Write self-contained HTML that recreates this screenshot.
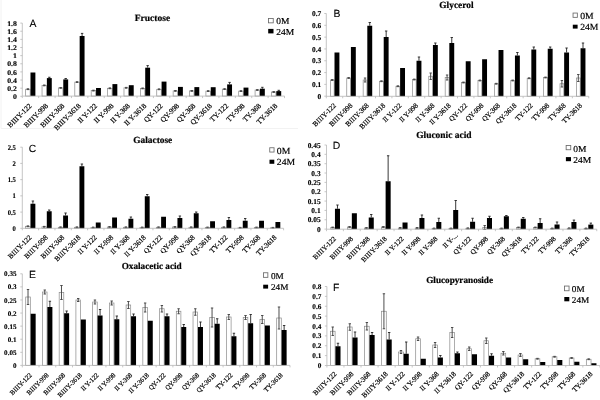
<!DOCTYPE html>
<html><head><meta charset="utf-8"><style>
html,body{margin:0;padding:0;background:#fff;width:600px;height:400px;overflow:hidden}
svg{display:block;will-change:transform;filter:blur(0.3px)}
text{fill:#000;text-rendering:geometricPrecision}
</style></head><body>
<svg width="600" height="400" viewBox="0 0 600 400">
<rect width="600" height="400" fill="#fff"/>
<path d="M1 0V128.5H298" stroke="#f2f2f2" stroke-width="1" fill="none"/>
<rect x="25.65" y="89.20" width="4.49" height="6.90" fill="#fff" stroke="#8a8a8a" stroke-width="0.7"/>
<rect x="30.49" y="72.50" width="4.89" height="23.60" fill="#000"/>
<path d="M27.90 88.80V89.60M26.70 88.80H29.10M26.70 89.60H29.10" stroke="#444" stroke-width="0.95" fill="none"/>
<rect x="42.04" y="85.40" width="4.49" height="10.70" fill="#fff" stroke="#8a8a8a" stroke-width="0.7"/>
<rect x="46.88" y="78.10" width="4.89" height="18.00" fill="#000"/>
<path d="M44.29 85.00V85.80M43.09 85.00H45.49M43.09 85.80H45.49" stroke="#444" stroke-width="0.95" fill="none"/>
<path d="M49.33 77.25V78.10M48.13 77.25H50.53" stroke="#222" stroke-width="0.9" fill="none"/>
<rect x="58.43" y="87.90" width="4.49" height="8.20" fill="#fff" stroke="#8a8a8a" stroke-width="0.7"/>
<rect x="63.27" y="79.40" width="4.89" height="16.70" fill="#000"/>
<path d="M60.67 87.50V88.30M59.47 87.50H61.87M59.47 88.30H61.87" stroke="#444" stroke-width="0.95" fill="none"/>
<path d="M65.71 78.50V79.40M64.51 78.50H66.91" stroke="#222" stroke-width="0.9" fill="none"/>
<rect x="74.81" y="82.10" width="4.49" height="14.00" fill="#fff" stroke="#8a8a8a" stroke-width="0.7"/>
<rect x="79.66" y="36.00" width="4.89" height="60.10" fill="#000"/>
<path d="M77.06 81.70V82.50M75.86 81.70H78.26M75.86 82.50H78.26" stroke="#444" stroke-width="0.95" fill="none"/>
<path d="M82.10 33.40V36.00M80.90 33.40H83.30" stroke="#222" stroke-width="0.9" fill="none"/>
<rect x="91.20" y="90.60" width="4.49" height="5.50" fill="#fff" stroke="#8a8a8a" stroke-width="0.7"/>
<rect x="96.04" y="88.00" width="4.89" height="8.10" fill="#000"/>
<path d="M93.45 90.20V91.00M92.25 90.20H94.65M92.25 91.00H94.65" stroke="#444" stroke-width="0.95" fill="none"/>
<rect x="107.59" y="88.30" width="4.49" height="7.80" fill="#fff" stroke="#8a8a8a" stroke-width="0.7"/>
<rect x="112.43" y="84.10" width="4.89" height="12.00" fill="#000"/>
<path d="M109.84 87.90V88.70M108.64 87.90H111.04M108.64 88.70H111.04" stroke="#444" stroke-width="0.95" fill="none"/>
<rect x="123.98" y="87.80" width="4.49" height="8.30" fill="#fff" stroke="#8a8a8a" stroke-width="0.7"/>
<rect x="128.82" y="85.20" width="4.89" height="10.90" fill="#000"/>
<path d="M126.22 87.40V88.20M125.02 87.40H127.42M125.02 88.20H127.42" stroke="#444" stroke-width="0.95" fill="none"/>
<rect x="140.36" y="88.40" width="4.49" height="7.70" fill="#fff" stroke="#8a8a8a" stroke-width="0.7"/>
<rect x="145.21" y="67.70" width="4.89" height="28.40" fill="#000"/>
<path d="M142.61 88.00V88.80M141.41 88.00H143.81M141.41 88.80H143.81" stroke="#444" stroke-width="0.95" fill="none"/>
<path d="M147.65 65.60V67.70M146.45 65.60H148.85" stroke="#222" stroke-width="0.9" fill="none"/>
<rect x="156.75" y="89.30" width="4.49" height="6.80" fill="#fff" stroke="#8a8a8a" stroke-width="0.7"/>
<rect x="161.59" y="81.60" width="4.89" height="14.50" fill="#000"/>
<path d="M159.00 88.90V89.70M157.80 88.90H160.20M157.80 89.70H160.20" stroke="#444" stroke-width="0.95" fill="none"/>
<rect x="173.14" y="90.90" width="4.49" height="5.20" fill="#fff" stroke="#8a8a8a" stroke-width="0.7"/>
<rect x="177.98" y="86.90" width="4.89" height="9.20" fill="#000"/>
<path d="M175.39 90.50V91.30M174.19 90.50H176.59M174.19 91.30H176.59" stroke="#444" stroke-width="0.95" fill="none"/>
<rect x="189.53" y="90.90" width="4.49" height="5.20" fill="#fff" stroke="#8a8a8a" stroke-width="0.7"/>
<rect x="194.37" y="87.10" width="4.89" height="9.00" fill="#000"/>
<path d="M191.77 90.50V91.30M190.57 90.50H192.97M190.57 91.30H192.97" stroke="#444" stroke-width="0.95" fill="none"/>
<rect x="205.91" y="91.10" width="4.49" height="5.00" fill="#fff" stroke="#8a8a8a" stroke-width="0.7"/>
<rect x="210.76" y="87.20" width="4.89" height="8.90" fill="#000"/>
<path d="M208.16 90.70V91.50M206.96 90.70H209.36M206.96 91.50H209.36" stroke="#444" stroke-width="0.95" fill="none"/>
<rect x="222.30" y="89.10" width="4.49" height="7.00" fill="#fff" stroke="#8a8a8a" stroke-width="0.7"/>
<rect x="227.14" y="84.40" width="4.89" height="11.70" fill="#000"/>
<path d="M224.55 88.70V89.50M223.35 88.70H225.75M223.35 89.50H225.75" stroke="#444" stroke-width="0.95" fill="none"/>
<path d="M229.59 82.40V84.40M228.39 82.40H230.79" stroke="#222" stroke-width="0.9" fill="none"/>
<rect x="238.69" y="91.10" width="4.49" height="5.00" fill="#fff" stroke="#8a8a8a" stroke-width="0.7"/>
<rect x="243.53" y="87.60" width="4.89" height="8.50" fill="#000"/>
<path d="M240.94 90.70V91.50M239.74 90.70H242.14M239.74 91.50H242.14" stroke="#444" stroke-width="0.95" fill="none"/>
<rect x="255.08" y="90.00" width="4.49" height="6.10" fill="#fff" stroke="#8a8a8a" stroke-width="0.7"/>
<rect x="259.92" y="88.70" width="4.89" height="7.40" fill="#000"/>
<path d="M257.32 89.60V90.40M256.12 89.60H258.52M256.12 90.40H258.52" stroke="#444" stroke-width="0.95" fill="none"/>
<path d="M262.36 87.30V88.70M261.16 87.30H263.56" stroke="#222" stroke-width="0.9" fill="none"/>
<rect x="271.46" y="92.00" width="4.49" height="4.10" fill="#fff" stroke="#8a8a8a" stroke-width="0.7"/>
<rect x="276.31" y="91.10" width="4.89" height="5.00" fill="#000"/>
<path d="M273.71 91.60V92.40M272.51 91.60H274.91M272.51 92.40H274.91" stroke="#444" stroke-width="0.95" fill="none"/>
<path d="M278.75 90.30V91.10M277.55 90.30H279.95" stroke="#222" stroke-width="0.9" fill="none"/>
<path d="M22.30 23.10V96.10H284.50" stroke="#b8b8b8" stroke-width="0.8" fill="none"/>
<path d="M20.30 96.30H22.30" stroke="#b8b8b8" stroke-width="0.8"/>
<text transform="translate(16.90,98.90) scale(1.1,1.0)" font-family="Liberation Serif" font-weight="bold" font-size="7.1" text-anchor="end" stroke="#000" stroke-width="0.12">0</text>
<path d="M20.30 88.17H22.30" stroke="#b8b8b8" stroke-width="0.8"/>
<text transform="translate(16.90,90.77) scale(1.1,1.0)" font-family="Liberation Serif" font-weight="bold" font-size="7.1" text-anchor="end" stroke="#000" stroke-width="0.12">0.2</text>
<path d="M20.30 80.03H22.30" stroke="#b8b8b8" stroke-width="0.8"/>
<text transform="translate(16.90,82.63) scale(1.1,1.0)" font-family="Liberation Serif" font-weight="bold" font-size="7.1" text-anchor="end" stroke="#000" stroke-width="0.12">0.4</text>
<path d="M20.30 71.90H22.30" stroke="#b8b8b8" stroke-width="0.8"/>
<text transform="translate(16.90,74.50) scale(1.1,1.0)" font-family="Liberation Serif" font-weight="bold" font-size="7.1" text-anchor="end" stroke="#000" stroke-width="0.12">0.6</text>
<path d="M20.30 63.77H22.30" stroke="#b8b8b8" stroke-width="0.8"/>
<text transform="translate(16.90,66.37) scale(1.1,1.0)" font-family="Liberation Serif" font-weight="bold" font-size="7.1" text-anchor="end" stroke="#000" stroke-width="0.12">0.8</text>
<path d="M20.30 55.63H22.30" stroke="#b8b8b8" stroke-width="0.8"/>
<text transform="translate(16.90,58.23) scale(1.1,1.0)" font-family="Liberation Serif" font-weight="bold" font-size="7.1" text-anchor="end" stroke="#000" stroke-width="0.12">1</text>
<path d="M20.30 47.50H22.30" stroke="#b8b8b8" stroke-width="0.8"/>
<text transform="translate(16.90,50.10) scale(1.1,1.0)" font-family="Liberation Serif" font-weight="bold" font-size="7.1" text-anchor="end" stroke="#000" stroke-width="0.12">1.2</text>
<path d="M20.30 39.37H22.30" stroke="#b8b8b8" stroke-width="0.8"/>
<text transform="translate(16.90,41.97) scale(1.1,1.0)" font-family="Liberation Serif" font-weight="bold" font-size="7.1" text-anchor="end" stroke="#000" stroke-width="0.12">1.4</text>
<path d="M20.30 31.23H22.30" stroke="#b8b8b8" stroke-width="0.8"/>
<text transform="translate(16.90,33.83) scale(1.1,1.0)" font-family="Liberation Serif" font-weight="bold" font-size="7.1" text-anchor="end" stroke="#000" stroke-width="0.12">1.6</text>
<path d="M20.30 23.10H22.30" stroke="#b8b8b8" stroke-width="0.8"/>
<text transform="translate(16.90,25.70) scale(1.1,1.0)" font-family="Liberation Serif" font-weight="bold" font-size="7.1" text-anchor="end" stroke="#000" stroke-width="0.12">1.8</text>
<path d="M22.30 96.10V98.10" stroke="#b8b8b8" stroke-width="0.8"/>
<path d="M38.69 96.10V98.10" stroke="#b8b8b8" stroke-width="0.8"/>
<path d="M55.08 96.10V98.10" stroke="#b8b8b8" stroke-width="0.8"/>
<path d="M71.46 96.10V98.10" stroke="#b8b8b8" stroke-width="0.8"/>
<path d="M87.85 96.10V98.10" stroke="#b8b8b8" stroke-width="0.8"/>
<path d="M104.24 96.10V98.10" stroke="#b8b8b8" stroke-width="0.8"/>
<path d="M120.62 96.10V98.10" stroke="#b8b8b8" stroke-width="0.8"/>
<path d="M137.01 96.10V98.10" stroke="#b8b8b8" stroke-width="0.8"/>
<path d="M153.40 96.10V98.10" stroke="#b8b8b8" stroke-width="0.8"/>
<path d="M169.79 96.10V98.10" stroke="#b8b8b8" stroke-width="0.8"/>
<path d="M186.18 96.10V98.10" stroke="#b8b8b8" stroke-width="0.8"/>
<path d="M202.56 96.10V98.10" stroke="#b8b8b8" stroke-width="0.8"/>
<path d="M218.95 96.10V98.10" stroke="#b8b8b8" stroke-width="0.8"/>
<path d="M235.34 96.10V98.10" stroke="#b8b8b8" stroke-width="0.8"/>
<path d="M251.72 96.10V98.10" stroke="#b8b8b8" stroke-width="0.8"/>
<path d="M268.11 96.10V98.10" stroke="#b8b8b8" stroke-width="0.8"/>
<path d="M284.50 96.10V98.10" stroke="#b8b8b8" stroke-width="0.8"/>
<text transform="translate(32.09,106.30) rotate(-45)" font-family="Liberation Serif" font-size="7.35" text-anchor="end" stroke="#000" stroke-width="0.2">B<tspan dx="0.15">I</tspan><tspan dx="0.07">I</tspan><tspan dx="0.07">I</tspan><tspan dx="0.22">Y</tspan>-122</text>
<text transform="translate(48.48,106.30) rotate(-45)" font-family="Liberation Serif" font-size="7.35" text-anchor="end" stroke="#000" stroke-width="0.2">B<tspan dx="0.15">I</tspan><tspan dx="0.07">I</tspan><tspan dx="0.07">I</tspan><tspan dx="0.22">Y</tspan>-998</text>
<text transform="translate(64.87,106.30) rotate(-45)" font-family="Liberation Serif" font-size="7.35" text-anchor="end" stroke="#000" stroke-width="0.2">B<tspan dx="0.15">I</tspan><tspan dx="0.07">I</tspan><tspan dx="0.07">I</tspan><tspan dx="0.22">Y</tspan>-368</text>
<text transform="translate(81.26,106.30) rotate(-45)" font-family="Liberation Serif" font-size="7.35" text-anchor="end" stroke="#000" stroke-width="0.2">B<tspan dx="0.15">I</tspan><tspan dx="0.07">I</tspan><tspan dx="0.07">I</tspan><tspan dx="0.22">Y</tspan>-3618</text>
<text transform="translate(97.64,106.30) rotate(-45)" font-family="Liberation Serif" font-size="7.35" text-anchor="end" stroke="#000" stroke-width="0.2">I<tspan dx="-0.07">I</tspan><tspan dx="1.54">Y</tspan>-122</text>
<text transform="translate(114.03,106.30) rotate(-45)" font-family="Liberation Serif" font-size="7.35" text-anchor="end" stroke="#000" stroke-width="0.2">I<tspan dx="-0.07">I</tspan><tspan dx="1.54">Y</tspan>-998</text>
<text transform="translate(130.42,106.30) rotate(-45)" font-family="Liberation Serif" font-size="7.35" text-anchor="end" stroke="#000" stroke-width="0.2">I<tspan dx="-0.07">I</tspan><tspan dx="1.54">Y</tspan>-368</text>
<text transform="translate(146.81,106.30) rotate(-45)" font-family="Liberation Serif" font-size="7.35" text-anchor="end" stroke="#000" stroke-width="0.2">I<tspan dx="-0.07">I</tspan><tspan dx="1.54">Y</tspan>-3618</text>
<text transform="translate(163.19,106.30) rotate(-45)" font-family="Liberation Serif" font-size="7.35" text-anchor="end" stroke="#000" stroke-width="0.2">QY-122</text>
<text transform="translate(179.58,106.30) rotate(-45)" font-family="Liberation Serif" font-size="7.35" text-anchor="end" stroke="#000" stroke-width="0.2">QY-998</text>
<text transform="translate(195.97,106.30) rotate(-45)" font-family="Liberation Serif" font-size="7.35" text-anchor="end" stroke="#000" stroke-width="0.2">QY-368</text>
<text transform="translate(212.36,106.30) rotate(-45)" font-family="Liberation Serif" font-size="7.35" text-anchor="end" stroke="#000" stroke-width="0.2">QY-3618</text>
<text transform="translate(228.74,106.30) rotate(-45)" font-family="Liberation Serif" font-size="7.35" text-anchor="end" stroke="#000" stroke-width="0.2">TY-122</text>
<text transform="translate(245.13,106.30) rotate(-45)" font-family="Liberation Serif" font-size="7.35" text-anchor="end" stroke="#000" stroke-width="0.2">TY-998</text>
<text transform="translate(261.52,106.30) rotate(-45)" font-family="Liberation Serif" font-size="7.35" text-anchor="end" stroke="#000" stroke-width="0.2">TY-368</text>
<text transform="translate(277.91,106.30) rotate(-45)" font-family="Liberation Serif" font-size="7.35" text-anchor="end" stroke="#000" stroke-width="0.2">TY-3618</text>
<text x="134.8" y="20.6" font-family="Liberation Serif" font-weight="bold" font-size="9.5" stroke="#000" stroke-width="0.2">Fructose</text>
<text x="29.6" y="27.2" font-family="Liberation Sans" font-size="10.4" stroke="#000" stroke-width="0.1">A</text>
<rect x="268.45" y="18.55" width="4.80" height="4.30" fill="#fff" stroke="#6a6a6a" stroke-width="0.85"/>
<text transform="translate(276.3,24.3) scale(1.04,1)" font-family="Liberation Serif" font-size="9.1" stroke="#000" stroke-width="0.18">0M</text>
<rect x="268.20" y="28.90" width="5.30" height="4.50" fill="#000"/>
<text transform="translate(276.3,34.8) scale(1.04,1)" font-family="Liberation Serif" font-size="9.1" stroke="#000" stroke-width="0.18">24M</text>
<rect x="330.36" y="80.00" width="3.80" height="16.30" fill="#fff" stroke="#8a8a8a" stroke-width="0.7"/>
<rect x="334.50" y="52.50" width="4.90" height="43.80" fill="#000"/>
<path d="M332.25 79.60V80.40M331.05 79.60H333.45M331.05 80.40H333.45" stroke="#444" stroke-width="0.95" fill="none"/>
<rect x="346.76" y="78.00" width="3.80" height="18.30" fill="#fff" stroke="#8a8a8a" stroke-width="0.7"/>
<rect x="350.90" y="47.00" width="4.90" height="49.30" fill="#000"/>
<path d="M348.66 77.60V78.40M347.46 77.60H349.86M347.46 78.40H349.86" stroke="#444" stroke-width="0.95" fill="none"/>
<rect x="363.16" y="80.00" width="3.80" height="16.30" fill="#fff" stroke="#8a8a8a" stroke-width="0.7"/>
<rect x="367.31" y="25.75" width="4.90" height="70.55" fill="#000"/>
<path d="M365.06 78.00V82.00M363.86 78.00H366.26M363.86 82.00H366.26" stroke="#444" stroke-width="0.95" fill="none"/>
<path d="M369.76 22.50V25.75M368.56 22.50H370.96" stroke="#222" stroke-width="0.9" fill="none"/>
<rect x="379.56" y="81.25" width="3.80" height="15.05" fill="#fff" stroke="#8a8a8a" stroke-width="0.7"/>
<rect x="383.71" y="37.00" width="4.90" height="59.30" fill="#000"/>
<path d="M381.46 80.85V81.65M380.26 80.85H382.66M380.26 81.65H382.66" stroke="#444" stroke-width="0.95" fill="none"/>
<path d="M386.16 31.00V37.00M384.96 31.00H387.36" stroke="#222" stroke-width="0.9" fill="none"/>
<rect x="395.97" y="86.25" width="3.80" height="10.05" fill="#fff" stroke="#8a8a8a" stroke-width="0.7"/>
<rect x="400.11" y="68.00" width="4.90" height="28.30" fill="#000"/>
<path d="M397.87 85.85V86.65M396.67 85.85H399.07M396.67 86.65H399.07" stroke="#444" stroke-width="0.95" fill="none"/>
<rect x="412.37" y="79.50" width="3.80" height="16.80" fill="#fff" stroke="#8a8a8a" stroke-width="0.7"/>
<rect x="416.52" y="60.75" width="4.90" height="35.55" fill="#000"/>
<path d="M414.27 79.10V79.90M413.07 79.10H415.47M413.07 79.90H415.47" stroke="#444" stroke-width="0.95" fill="none"/>
<path d="M418.97 57.00V60.75M417.77 57.00H420.17" stroke="#222" stroke-width="0.9" fill="none"/>
<rect x="428.77" y="76.25" width="3.80" height="20.05" fill="#fff" stroke="#8a8a8a" stroke-width="0.7"/>
<rect x="432.92" y="45.00" width="4.90" height="51.30" fill="#000"/>
<path d="M430.67 73.00V79.50M429.47 73.00H431.87M429.47 79.50H431.87" stroke="#444" stroke-width="0.95" fill="none"/>
<path d="M435.37 43.00V45.00M434.17 43.00H436.57" stroke="#222" stroke-width="0.9" fill="none"/>
<rect x="445.18" y="77.50" width="3.80" height="18.80" fill="#fff" stroke="#8a8a8a" stroke-width="0.7"/>
<rect x="449.32" y="43.00" width="4.90" height="53.30" fill="#000"/>
<path d="M447.08 75.00V80.00M445.88 75.00H448.28M445.88 80.00H448.28" stroke="#444" stroke-width="0.95" fill="none"/>
<path d="M451.77 37.50V43.00M450.57 37.50H452.97" stroke="#222" stroke-width="0.9" fill="none"/>
<rect x="461.58" y="82.50" width="3.80" height="13.80" fill="#fff" stroke="#8a8a8a" stroke-width="0.7"/>
<rect x="465.73" y="61.25" width="4.90" height="35.05" fill="#000"/>
<path d="M463.48 82.10V82.90M462.28 82.10H464.68M462.28 82.90H464.68" stroke="#444" stroke-width="0.95" fill="none"/>
<rect x="477.98" y="80.50" width="3.80" height="15.80" fill="#fff" stroke="#8a8a8a" stroke-width="0.7"/>
<rect x="482.13" y="59.25" width="4.90" height="37.05" fill="#000"/>
<path d="M479.88 80.10V80.90M478.68 80.10H481.08M478.68 80.90H481.08" stroke="#444" stroke-width="0.95" fill="none"/>
<rect x="494.39" y="83.75" width="3.80" height="12.55" fill="#fff" stroke="#8a8a8a" stroke-width="0.7"/>
<rect x="498.53" y="50.00" width="4.90" height="46.30" fill="#000"/>
<path d="M496.28 83.35V84.15M495.08 83.35H497.48M495.08 84.15H497.48" stroke="#444" stroke-width="0.95" fill="none"/>
<rect x="510.79" y="80.50" width="3.80" height="15.80" fill="#fff" stroke="#8a8a8a" stroke-width="0.7"/>
<rect x="514.94" y="55.50" width="4.90" height="40.80" fill="#000"/>
<path d="M512.69 80.10V80.90M511.49 80.10H513.89M511.49 80.90H513.89" stroke="#444" stroke-width="0.95" fill="none"/>
<path d="M517.38 52.50V55.50M516.18 52.50H518.58" stroke="#222" stroke-width="0.9" fill="none"/>
<rect x="527.19" y="78.25" width="3.80" height="18.05" fill="#fff" stroke="#8a8a8a" stroke-width="0.7"/>
<rect x="531.34" y="49.50" width="4.90" height="46.80" fill="#000"/>
<path d="M529.09 77.85V78.65M527.89 77.85H530.29M527.89 78.65H530.29" stroke="#444" stroke-width="0.95" fill="none"/>
<path d="M533.79 47.00V49.50M532.59 47.00H534.99" stroke="#222" stroke-width="0.9" fill="none"/>
<rect x="543.60" y="77.50" width="3.80" height="18.80" fill="#fff" stroke="#8a8a8a" stroke-width="0.7"/>
<rect x="547.74" y="48.75" width="4.90" height="47.55" fill="#000"/>
<path d="M545.49 77.10V77.90M544.29 77.10H546.69M544.29 77.90H546.69" stroke="#444" stroke-width="0.95" fill="none"/>
<path d="M550.19 47.00V48.75M548.99 47.00H551.39" stroke="#222" stroke-width="0.9" fill="none"/>
<rect x="560.00" y="83.75" width="3.80" height="12.55" fill="#fff" stroke="#8a8a8a" stroke-width="0.7"/>
<rect x="564.15" y="52.50" width="4.90" height="43.80" fill="#000"/>
<path d="M561.90 80.50V87.00M560.70 80.50H563.10M560.70 87.00H563.10" stroke="#444" stroke-width="0.95" fill="none"/>
<path d="M566.59 48.00V52.50M565.39 48.00H567.79" stroke="#222" stroke-width="0.9" fill="none"/>
<rect x="576.40" y="78.00" width="3.80" height="18.30" fill="#fff" stroke="#8a8a8a" stroke-width="0.7"/>
<rect x="580.55" y="48.25" width="4.90" height="48.05" fill="#000"/>
<path d="M578.30 74.50V81.50M577.10 74.50H579.50M577.10 81.50H579.50" stroke="#444" stroke-width="0.95" fill="none"/>
<path d="M583.00 43.00V48.25M581.80 43.00H584.20" stroke="#222" stroke-width="0.9" fill="none"/>
<path d="M326.30 13.50V96.30H588.75" stroke="#b8b8b8" stroke-width="0.8" fill="none"/>
<path d="M324.30 96.20H326.30" stroke="#b8b8b8" stroke-width="0.8"/>
<text transform="translate(321.30,98.80) scale(1.0,1.0)" font-family="Liberation Serif" font-weight="bold" font-size="7.4" text-anchor="end" stroke="#000" stroke-width="0.12">0</text>
<path d="M324.30 84.39H326.30" stroke="#b8b8b8" stroke-width="0.8"/>
<text transform="translate(321.30,86.99) scale(1.0,1.0)" font-family="Liberation Serif" font-weight="bold" font-size="7.4" text-anchor="end" stroke="#000" stroke-width="0.12">0.1</text>
<path d="M324.30 72.57H326.30" stroke="#b8b8b8" stroke-width="0.8"/>
<text transform="translate(321.30,75.17) scale(1.0,1.0)" font-family="Liberation Serif" font-weight="bold" font-size="7.4" text-anchor="end" stroke="#000" stroke-width="0.12">0.2</text>
<path d="M324.30 60.76H326.30" stroke="#b8b8b8" stroke-width="0.8"/>
<text transform="translate(321.30,63.36) scale(1.0,1.0)" font-family="Liberation Serif" font-weight="bold" font-size="7.4" text-anchor="end" stroke="#000" stroke-width="0.12">0.3</text>
<path d="M324.30 48.94H326.30" stroke="#b8b8b8" stroke-width="0.8"/>
<text transform="translate(321.30,51.54) scale(1.0,1.0)" font-family="Liberation Serif" font-weight="bold" font-size="7.4" text-anchor="end" stroke="#000" stroke-width="0.12">0.4</text>
<path d="M324.30 37.13H326.30" stroke="#b8b8b8" stroke-width="0.8"/>
<text transform="translate(321.30,39.73) scale(1.0,1.0)" font-family="Liberation Serif" font-weight="bold" font-size="7.4" text-anchor="end" stroke="#000" stroke-width="0.12">0.5</text>
<path d="M324.30 25.31H326.30" stroke="#b8b8b8" stroke-width="0.8"/>
<text transform="translate(321.30,27.91) scale(1.0,1.0)" font-family="Liberation Serif" font-weight="bold" font-size="7.4" text-anchor="end" stroke="#000" stroke-width="0.12">0.6</text>
<path d="M324.30 13.50H326.30" stroke="#b8b8b8" stroke-width="0.8"/>
<text transform="translate(321.30,16.10) scale(1.0,1.0)" font-family="Liberation Serif" font-weight="bold" font-size="7.4" text-anchor="end" stroke="#000" stroke-width="0.12">0.7</text>
<path d="M326.30 96.30V98.30" stroke="#b8b8b8" stroke-width="0.8"/>
<path d="M342.70 96.30V98.30" stroke="#b8b8b8" stroke-width="0.8"/>
<path d="M359.11 96.30V98.30" stroke="#b8b8b8" stroke-width="0.8"/>
<path d="M375.51 96.30V98.30" stroke="#b8b8b8" stroke-width="0.8"/>
<path d="M391.91 96.30V98.30" stroke="#b8b8b8" stroke-width="0.8"/>
<path d="M408.32 96.30V98.30" stroke="#b8b8b8" stroke-width="0.8"/>
<path d="M424.72 96.30V98.30" stroke="#b8b8b8" stroke-width="0.8"/>
<path d="M441.12 96.30V98.30" stroke="#b8b8b8" stroke-width="0.8"/>
<path d="M457.52 96.30V98.30" stroke="#b8b8b8" stroke-width="0.8"/>
<path d="M473.93 96.30V98.30" stroke="#b8b8b8" stroke-width="0.8"/>
<path d="M490.33 96.30V98.30" stroke="#b8b8b8" stroke-width="0.8"/>
<path d="M506.73 96.30V98.30" stroke="#b8b8b8" stroke-width="0.8"/>
<path d="M523.14 96.30V98.30" stroke="#b8b8b8" stroke-width="0.8"/>
<path d="M539.54 96.30V98.30" stroke="#b8b8b8" stroke-width="0.8"/>
<path d="M555.94 96.30V98.30" stroke="#b8b8b8" stroke-width="0.8"/>
<path d="M572.35 96.30V98.30" stroke="#b8b8b8" stroke-width="0.8"/>
<path d="M588.75 96.30V98.30" stroke="#b8b8b8" stroke-width="0.8"/>
<text transform="translate(336.50,105.90) rotate(-45)" font-family="Liberation Serif" font-size="7.1" text-anchor="end" stroke="#000" stroke-width="0.2">B<tspan dx="0.14">I</tspan><tspan dx="0.07">I</tspan><tspan dx="0.07">I</tspan><tspan dx="0.21">Y</tspan>-122</text>
<text transform="translate(352.90,105.90) rotate(-45)" font-family="Liberation Serif" font-size="7.1" text-anchor="end" stroke="#000" stroke-width="0.2">B<tspan dx="0.14">I</tspan><tspan dx="0.07">I</tspan><tspan dx="0.07">I</tspan><tspan dx="0.21">Y</tspan>-998</text>
<text transform="translate(369.31,105.90) rotate(-45)" font-family="Liberation Serif" font-size="7.1" text-anchor="end" stroke="#000" stroke-width="0.2">B<tspan dx="0.14">I</tspan><tspan dx="0.07">I</tspan><tspan dx="0.07">I</tspan><tspan dx="0.21">Y</tspan>-368</text>
<text transform="translate(385.71,105.90) rotate(-45)" font-family="Liberation Serif" font-size="7.1" text-anchor="end" stroke="#000" stroke-width="0.2">B<tspan dx="0.14">I</tspan><tspan dx="0.07">I</tspan><tspan dx="0.07">I</tspan><tspan dx="0.21">Y</tspan>-3618</text>
<text transform="translate(402.11,105.90) rotate(-45)" font-family="Liberation Serif" font-size="7.1" text-anchor="end" stroke="#000" stroke-width="0.2">I<tspan dx="-0.07">I</tspan><tspan dx="1.49">Y</tspan>-122</text>
<text transform="translate(418.52,105.90) rotate(-45)" font-family="Liberation Serif" font-size="7.1" text-anchor="end" stroke="#000" stroke-width="0.2">I<tspan dx="-0.07">I</tspan><tspan dx="1.49">Y</tspan>-998</text>
<text transform="translate(434.92,105.90) rotate(-45)" font-family="Liberation Serif" font-size="7.1" text-anchor="end" stroke="#000" stroke-width="0.2">I<tspan dx="-0.07">I</tspan><tspan dx="1.49">Y</tspan>-368</text>
<text transform="translate(451.32,105.90) rotate(-45)" font-family="Liberation Serif" font-size="7.1" text-anchor="end" stroke="#000" stroke-width="0.2">I<tspan dx="-0.07">I</tspan><tspan dx="1.49">Y</tspan>-3618</text>
<text transform="translate(467.73,105.90) rotate(-45)" font-family="Liberation Serif" font-size="7.1" text-anchor="end" stroke="#000" stroke-width="0.2">QY-122</text>
<text transform="translate(484.13,105.90) rotate(-45)" font-family="Liberation Serif" font-size="7.1" text-anchor="end" stroke="#000" stroke-width="0.2">QY-998</text>
<text transform="translate(500.53,105.90) rotate(-45)" font-family="Liberation Serif" font-size="7.1" text-anchor="end" stroke="#000" stroke-width="0.2">QY-368</text>
<text transform="translate(516.94,105.90) rotate(-45)" font-family="Liberation Serif" font-size="7.1" text-anchor="end" stroke="#000" stroke-width="0.2">QY-3618</text>
<text transform="translate(533.34,105.90) rotate(-45)" font-family="Liberation Serif" font-size="7.1" text-anchor="end" stroke="#000" stroke-width="0.2">TY-122</text>
<text transform="translate(549.74,105.90) rotate(-45)" font-family="Liberation Serif" font-size="7.1" text-anchor="end" stroke="#000" stroke-width="0.2">TY-998</text>
<text transform="translate(566.15,105.90) rotate(-45)" font-family="Liberation Serif" font-size="7.1" text-anchor="end" stroke="#000" stroke-width="0.2">TY-368</text>
<text transform="translate(582.55,105.90) rotate(-45)" font-family="Liberation Serif" font-size="7.1" text-anchor="end" stroke="#000" stroke-width="0.2">TY-3618</text>
<text x="439.3" y="8.1" font-family="Liberation Serif" font-weight="bold" font-size="9.4" stroke="#000" stroke-width="0.2">Glycerol</text>
<text x="333.4" y="16.5" font-family="Liberation Sans" font-size="10.4" stroke="#000" stroke-width="0.1">B</text>
<rect x="573.05" y="13.05" width="4.30" height="4.30" fill="#fff" stroke="#6a6a6a" stroke-width="0.85"/>
<text transform="translate(580.2,18.9) scale(1.04,1)" font-family="Liberation Serif" font-size="9.3" stroke="#000" stroke-width="0.18">0M</text>
<rect x="572.80" y="24.70" width="4.80" height="3.90" fill="#000"/>
<text transform="translate(580.2,30.1) scale(1.04,1)" font-family="Liberation Serif" font-size="9.3" stroke="#000" stroke-width="0.18">24M</text>
<rect x="25.64" y="226.30" width="4.48" height="2.00" fill="#fff" stroke="#8a8a8a" stroke-width="0.7"/>
<rect x="30.47" y="203.75" width="4.88" height="24.55" fill="#000"/>
<path d="M27.88 225.90V226.70M26.68 225.90H29.08M26.68 226.70H29.08" stroke="#444" stroke-width="0.95" fill="none"/>
<path d="M32.90 201.00V203.75M31.70 201.00H34.10" stroke="#222" stroke-width="0.9" fill="none"/>
<rect x="41.97" y="226.80" width="4.47" height="1.50" fill="#fff" stroke="#8a8a8a" stroke-width="0.7"/>
<rect x="46.80" y="211.25" width="4.88" height="17.05" fill="#000"/>
<path d="M44.21 226.40V227.20M43.01 226.40H45.41M43.01 227.20H45.41" stroke="#444" stroke-width="0.95" fill="none"/>
<path d="M49.23 210.00V211.25M48.03 210.00H50.43" stroke="#222" stroke-width="0.9" fill="none"/>
<rect x="58.30" y="227.30" width="4.47" height="1.00" fill="#fff" stroke="#8a8a8a" stroke-width="0.7"/>
<rect x="63.13" y="215.50" width="4.88" height="12.80" fill="#000"/>
<path d="M60.54 226.90V227.70M59.34 226.90H61.74M59.34 227.70H61.74" stroke="#444" stroke-width="0.95" fill="none"/>
<path d="M65.57 213.00V215.50M64.37 213.00H66.77" stroke="#222" stroke-width="0.9" fill="none"/>
<rect x="74.63" y="227.30" width="4.47" height="1.00" fill="#fff" stroke="#8a8a8a" stroke-width="0.7"/>
<rect x="79.46" y="166.25" width="4.88" height="62.05" fill="#000"/>
<path d="M76.87 226.90V227.70M75.67 226.90H78.07M75.67 227.70H78.07" stroke="#444" stroke-width="0.95" fill="none"/>
<path d="M81.90 164.00V166.25M80.70 164.00H83.10" stroke="#222" stroke-width="0.9" fill="none"/>
<rect x="90.97" y="227.50" width="4.47" height="0.80" fill="#fff" stroke="#8a8a8a" stroke-width="0.7"/>
<rect x="95.79" y="222.50" width="4.88" height="5.80" fill="#000"/>
<path d="M93.20 227.10V227.90M92.00 227.10H94.40M92.00 227.90H94.40" stroke="#444" stroke-width="0.95" fill="none"/>
<rect x="107.30" y="227.00" width="4.47" height="1.30" fill="#fff" stroke="#8a8a8a" stroke-width="0.7"/>
<rect x="112.12" y="217.50" width="4.88" height="10.80" fill="#000"/>
<path d="M109.53 226.60V227.40M108.33 226.60H110.73M108.33 227.40H110.73" stroke="#444" stroke-width="0.95" fill="none"/>
<rect x="123.63" y="227.30" width="4.47" height="1.00" fill="#fff" stroke="#8a8a8a" stroke-width="0.7"/>
<rect x="128.45" y="218.75" width="4.88" height="9.55" fill="#000"/>
<path d="M125.87 226.90V227.70M124.67 226.90H127.07M124.67 227.70H127.07" stroke="#444" stroke-width="0.95" fill="none"/>
<path d="M130.89 217.00V218.75M129.69 217.00H132.09" stroke="#222" stroke-width="0.9" fill="none"/>
<rect x="139.96" y="227.50" width="4.48" height="0.80" fill="#fff" stroke="#8a8a8a" stroke-width="0.7"/>
<rect x="144.78" y="196.25" width="4.88" height="32.05" fill="#000"/>
<path d="M142.20 227.10V227.90M141.00 227.10H143.40M141.00 227.90H143.40" stroke="#444" stroke-width="0.95" fill="none"/>
<path d="M147.22 194.50V196.25M146.02 194.50H148.42" stroke="#222" stroke-width="0.9" fill="none"/>
<rect x="156.29" y="227.30" width="4.48" height="1.00" fill="#fff" stroke="#8a8a8a" stroke-width="0.7"/>
<rect x="161.12" y="216.75" width="4.88" height="11.55" fill="#000"/>
<path d="M158.53 226.90V227.70M157.33 226.90H159.73M157.33 227.70H159.73" stroke="#444" stroke-width="0.95" fill="none"/>
<rect x="172.62" y="227.00" width="4.48" height="1.30" fill="#fff" stroke="#8a8a8a" stroke-width="0.7"/>
<rect x="177.45" y="218.00" width="4.88" height="10.30" fill="#000"/>
<path d="M174.86 226.60V227.40M173.66 226.60H176.06M173.66 227.40H176.06" stroke="#444" stroke-width="0.95" fill="none"/>
<path d="M179.88 216.00V218.00M178.68 216.00H181.08" stroke="#222" stroke-width="0.9" fill="none"/>
<rect x="188.95" y="227.30" width="4.48" height="1.00" fill="#fff" stroke="#8a8a8a" stroke-width="0.7"/>
<rect x="193.78" y="213.25" width="4.88" height="15.05" fill="#000"/>
<path d="M191.19 226.90V227.70M189.99 226.90H192.39M189.99 227.70H192.39" stroke="#444" stroke-width="0.95" fill="none"/>
<path d="M196.22 212.00V213.25M195.02 212.00H197.42" stroke="#222" stroke-width="0.9" fill="none"/>
<rect x="205.28" y="227.50" width="4.48" height="0.80" fill="#fff" stroke="#8a8a8a" stroke-width="0.7"/>
<rect x="210.11" y="221.25" width="4.88" height="7.05" fill="#000"/>
<path d="M207.52 227.10V227.90M206.32 227.10H208.72M206.32 227.90H208.72" stroke="#444" stroke-width="0.95" fill="none"/>
<rect x="221.62" y="227.30" width="4.48" height="1.00" fill="#fff" stroke="#8a8a8a" stroke-width="0.7"/>
<rect x="226.44" y="220.00" width="4.88" height="8.30" fill="#000"/>
<path d="M223.85 226.90V227.70M222.65 226.90H225.05M222.65 227.70H225.05" stroke="#444" stroke-width="0.95" fill="none"/>
<path d="M228.88 217.50V220.00M227.68 217.50H230.08" stroke="#222" stroke-width="0.9" fill="none"/>
<rect x="237.95" y="227.80" width="4.48" height="0.50" fill="#fff" stroke="#8a8a8a" stroke-width="0.7"/>
<rect x="242.77" y="220.75" width="4.88" height="7.55" fill="#000"/>
<path d="M240.18 227.40V228.20M238.98 227.40H241.38M238.98 228.20H241.38" stroke="#444" stroke-width="0.95" fill="none"/>
<path d="M245.21 218.50V220.75M244.01 218.50H246.41" stroke="#222" stroke-width="0.9" fill="none"/>
<rect x="254.28" y="227.50" width="4.48" height="0.80" fill="#fff" stroke="#8a8a8a" stroke-width="0.7"/>
<rect x="259.10" y="220.75" width="4.88" height="7.55" fill="#000"/>
<path d="M256.52 227.10V227.90M255.32 227.10H257.72M255.32 227.90H257.72" stroke="#444" stroke-width="0.95" fill="none"/>
<rect x="270.61" y="227.80" width="4.48" height="0.50" fill="#fff" stroke="#8a8a8a" stroke-width="0.7"/>
<rect x="275.43" y="222.00" width="4.88" height="6.30" fill="#000"/>
<path d="M272.85 227.40V228.20M271.65 227.40H274.05M271.65 228.20H274.05" stroke="#444" stroke-width="0.95" fill="none"/>
<path d="M22.30 147.20V228.30H283.60" stroke="#b8b8b8" stroke-width="0.8" fill="none"/>
<path d="M20.30 228.30H22.30" stroke="#b8b8b8" stroke-width="0.8"/>
<text transform="translate(15.90,230.90) scale(0.92,1.0)" font-family="Liberation Serif" font-weight="bold" font-size="7.2" text-anchor="end" stroke="#000" stroke-width="0.12">0</text>
<path d="M20.30 212.08H22.30" stroke="#b8b8b8" stroke-width="0.8"/>
<text transform="translate(15.90,214.68) scale(0.92,1.0)" font-family="Liberation Serif" font-weight="bold" font-size="7.2" text-anchor="end" stroke="#000" stroke-width="0.12">0.5</text>
<path d="M20.30 195.86H22.30" stroke="#b8b8b8" stroke-width="0.8"/>
<text transform="translate(15.90,198.46) scale(0.92,1.0)" font-family="Liberation Serif" font-weight="bold" font-size="7.2" text-anchor="end" stroke="#000" stroke-width="0.12">1</text>
<path d="M20.30 179.64H22.30" stroke="#b8b8b8" stroke-width="0.8"/>
<text transform="translate(15.90,182.24) scale(0.92,1.0)" font-family="Liberation Serif" font-weight="bold" font-size="7.2" text-anchor="end" stroke="#000" stroke-width="0.12">1.5</text>
<path d="M20.30 163.42H22.30" stroke="#b8b8b8" stroke-width="0.8"/>
<text transform="translate(15.90,166.02) scale(0.92,1.0)" font-family="Liberation Serif" font-weight="bold" font-size="7.2" text-anchor="end" stroke="#000" stroke-width="0.12">2</text>
<path d="M20.30 147.20H22.30" stroke="#b8b8b8" stroke-width="0.8"/>
<text transform="translate(15.90,149.80) scale(0.92,1.0)" font-family="Liberation Serif" font-weight="bold" font-size="7.2" text-anchor="end" stroke="#000" stroke-width="0.12">2.5</text>
<path d="M22.30 228.30V230.30" stroke="#b8b8b8" stroke-width="0.8"/>
<path d="M38.63 228.30V230.30" stroke="#b8b8b8" stroke-width="0.8"/>
<path d="M54.96 228.30V230.30" stroke="#b8b8b8" stroke-width="0.8"/>
<path d="M71.29 228.30V230.30" stroke="#b8b8b8" stroke-width="0.8"/>
<path d="M87.62 228.30V230.30" stroke="#b8b8b8" stroke-width="0.8"/>
<path d="M103.96 228.30V230.30" stroke="#b8b8b8" stroke-width="0.8"/>
<path d="M120.29 228.30V230.30" stroke="#b8b8b8" stroke-width="0.8"/>
<path d="M136.62 228.30V230.30" stroke="#b8b8b8" stroke-width="0.8"/>
<path d="M152.95 228.30V230.30" stroke="#b8b8b8" stroke-width="0.8"/>
<path d="M169.28 228.30V230.30" stroke="#b8b8b8" stroke-width="0.8"/>
<path d="M185.61 228.30V230.30" stroke="#b8b8b8" stroke-width="0.8"/>
<path d="M201.94 228.30V230.30" stroke="#b8b8b8" stroke-width="0.8"/>
<path d="M218.28 228.30V230.30" stroke="#b8b8b8" stroke-width="0.8"/>
<path d="M234.61 228.30V230.30" stroke="#b8b8b8" stroke-width="0.8"/>
<path d="M250.94 228.30V230.30" stroke="#b8b8b8" stroke-width="0.8"/>
<path d="M267.27 228.30V230.30" stroke="#b8b8b8" stroke-width="0.8"/>
<path d="M283.60 228.30V230.30" stroke="#b8b8b8" stroke-width="0.8"/>
<text transform="translate(32.07,237.90) rotate(-45)" font-family="Liberation Serif" font-size="7.2" text-anchor="end" stroke="#000" stroke-width="0.2">B<tspan dx="0.14">I</tspan><tspan dx="0.07">I</tspan><tspan dx="0.07">I</tspan><tspan dx="0.22">Y</tspan>-122</text>
<text transform="translate(48.40,237.90) rotate(-45)" font-family="Liberation Serif" font-size="7.2" text-anchor="end" stroke="#000" stroke-width="0.2">B<tspan dx="0.14">I</tspan><tspan dx="0.07">I</tspan><tspan dx="0.07">I</tspan><tspan dx="0.22">Y</tspan>-998</text>
<text transform="translate(64.73,237.90) rotate(-45)" font-family="Liberation Serif" font-size="7.2" text-anchor="end" stroke="#000" stroke-width="0.2">B<tspan dx="0.14">I</tspan><tspan dx="0.07">I</tspan><tspan dx="0.07">I</tspan><tspan dx="0.22">Y</tspan>-368</text>
<text transform="translate(81.06,237.90) rotate(-45)" font-family="Liberation Serif" font-size="7.2" text-anchor="end" stroke="#000" stroke-width="0.2">B<tspan dx="0.14">I</tspan><tspan dx="0.07">I</tspan><tspan dx="0.07">I</tspan><tspan dx="0.22">Y</tspan>-3618</text>
<text transform="translate(97.39,237.90) rotate(-45)" font-family="Liberation Serif" font-size="7.2" text-anchor="end" stroke="#000" stroke-width="0.2">I<tspan dx="-0.07">I</tspan><tspan dx="1.51">Y</tspan>-122</text>
<text transform="translate(113.72,237.90) rotate(-45)" font-family="Liberation Serif" font-size="7.2" text-anchor="end" stroke="#000" stroke-width="0.2">I<tspan dx="-0.07">I</tspan><tspan dx="1.51">Y</tspan>-998</text>
<text transform="translate(130.05,237.90) rotate(-45)" font-family="Liberation Serif" font-size="7.2" text-anchor="end" stroke="#000" stroke-width="0.2">I<tspan dx="-0.07">I</tspan><tspan dx="1.51">Y</tspan>-368</text>
<text transform="translate(146.38,237.90) rotate(-45)" font-family="Liberation Serif" font-size="7.2" text-anchor="end" stroke="#000" stroke-width="0.2">I<tspan dx="-0.07">I</tspan><tspan dx="1.51">Y</tspan>-3618</text>
<text transform="translate(162.72,237.90) rotate(-45)" font-family="Liberation Serif" font-size="7.2" text-anchor="end" stroke="#000" stroke-width="0.2">QY-122</text>
<text transform="translate(179.05,237.90) rotate(-45)" font-family="Liberation Serif" font-size="7.2" text-anchor="end" stroke="#000" stroke-width="0.2">QY-998</text>
<text transform="translate(195.38,237.90) rotate(-45)" font-family="Liberation Serif" font-size="7.2" text-anchor="end" stroke="#000" stroke-width="0.2">QY-368</text>
<text transform="translate(211.71,237.90) rotate(-45)" font-family="Liberation Serif" font-size="7.2" text-anchor="end" stroke="#000" stroke-width="0.2">QY-3618</text>
<text transform="translate(228.04,237.90) rotate(-45)" font-family="Liberation Serif" font-size="7.2" text-anchor="end" stroke="#000" stroke-width="0.2">TY-122</text>
<text transform="translate(244.37,237.90) rotate(-45)" font-family="Liberation Serif" font-size="7.2" text-anchor="end" stroke="#000" stroke-width="0.2">TY-998</text>
<text transform="translate(260.70,237.90) rotate(-45)" font-family="Liberation Serif" font-size="7.2" text-anchor="end" stroke="#000" stroke-width="0.2">TY-368</text>
<text transform="translate(277.03,237.90) rotate(-45)" font-family="Liberation Serif" font-size="7.2" text-anchor="end" stroke="#000" stroke-width="0.2">TY-3618</text>
<text x="133.3" y="143.1" font-family="Liberation Serif" font-weight="bold" font-size="9.35" stroke="#000" stroke-width="0.2">Galactose</text>
<text x="28.8" y="152" font-family="Liberation Sans" font-size="10.4" stroke="#000" stroke-width="0.1">C</text>
<rect x="269.75" y="147.75" width="4.30" height="4.30" fill="#fff" stroke="#6a6a6a" stroke-width="0.85"/>
<text transform="translate(276.8,153.9) scale(1.04,1)" font-family="Liberation Serif" font-size="9.3" stroke="#000" stroke-width="0.18">0M</text>
<rect x="269.50" y="159.70" width="4.80" height="4.10" fill="#000"/>
<text transform="translate(276.8,165.1) scale(1.04,1)" font-family="Liberation Serif" font-size="9.3" stroke="#000" stroke-width="0.18">24M</text>
<rect x="330.75" y="227.50" width="3.84" height="1.70" fill="#fff" stroke="#8a8a8a" stroke-width="0.7"/>
<rect x="334.95" y="208.75" width="5.04" height="20.45" fill="#000"/>
<path d="M332.67 227.10V227.90M331.47 227.10H333.87M331.47 227.90H333.87" stroke="#444" stroke-width="0.95" fill="none"/>
<path d="M337.47 205.00V208.75M336.27 205.00H338.67" stroke="#222" stroke-width="0.9" fill="none"/>
<rect x="347.64" y="227.00" width="3.84" height="2.20" fill="#fff" stroke="#8a8a8a" stroke-width="0.7"/>
<rect x="351.84" y="213.25" width="5.04" height="15.95" fill="#000"/>
<path d="M349.56 226.60V227.40M348.36 226.60H350.76M348.36 227.40H350.76" stroke="#444" stroke-width="0.95" fill="none"/>
<rect x="364.53" y="228.00" width="3.84" height="1.20" fill="#fff" stroke="#8a8a8a" stroke-width="0.7"/>
<rect x="368.73" y="217.50" width="5.04" height="11.70" fill="#000"/>
<path d="M366.46 227.60V228.40M365.26 227.60H367.66M365.26 228.40H367.66" stroke="#444" stroke-width="0.95" fill="none"/>
<path d="M371.25 214.50V217.50M370.05 214.50H372.45" stroke="#222" stroke-width="0.9" fill="none"/>
<rect x="381.43" y="227.00" width="3.84" height="2.20" fill="#fff" stroke="#8a8a8a" stroke-width="0.7"/>
<rect x="385.62" y="181.25" width="5.04" height="47.95" fill="#000"/>
<path d="M383.35 226.60V227.40M382.15 226.60H384.55M382.15 227.40H384.55" stroke="#444" stroke-width="0.95" fill="none"/>
<path d="M388.14 155.75V181.25M386.94 155.75H389.34" stroke="#222" stroke-width="0.9" fill="none"/>
<rect x="398.32" y="228.00" width="3.84" height="1.20" fill="#fff" stroke="#8a8a8a" stroke-width="0.7"/>
<rect x="402.51" y="222.50" width="5.04" height="6.70" fill="#000"/>
<path d="M400.24 227.60V228.40M399.04 227.60H401.44M399.04 228.40H401.44" stroke="#444" stroke-width="0.95" fill="none"/>
<rect x="415.21" y="228.00" width="3.84" height="1.20" fill="#fff" stroke="#8a8a8a" stroke-width="0.7"/>
<rect x="419.40" y="218.00" width="5.04" height="11.20" fill="#000"/>
<path d="M417.13 227.60V228.40M415.93 227.60H418.33M415.93 228.40H418.33" stroke="#444" stroke-width="0.95" fill="none"/>
<path d="M421.92 215.00V218.00M420.72 215.00H423.12" stroke="#222" stroke-width="0.9" fill="none"/>
<rect x="432.10" y="228.50" width="3.84" height="0.70" fill="#fff" stroke="#8a8a8a" stroke-width="0.7"/>
<rect x="436.29" y="222.00" width="5.04" height="7.20" fill="#000"/>
<path d="M434.02 228.10V228.90M432.82 228.10H435.22M432.82 228.90H435.22" stroke="#444" stroke-width="0.95" fill="none"/>
<path d="M438.81 218.25V222.00M437.61 218.25H440.01" stroke="#222" stroke-width="0.9" fill="none"/>
<rect x="448.99" y="228.50" width="3.84" height="0.70" fill="#fff" stroke="#8a8a8a" stroke-width="0.7"/>
<rect x="453.18" y="210.00" width="5.04" height="19.20" fill="#000"/>
<path d="M450.91 228.10V228.90M449.71 228.10H452.11M449.71 228.90H452.11" stroke="#444" stroke-width="0.95" fill="none"/>
<path d="M455.70 200.50V210.00M454.50 200.50H456.90" stroke="#222" stroke-width="0.9" fill="none"/>
<rect x="465.88" y="228.30" width="3.84" height="0.90" fill="#fff" stroke="#8a8a8a" stroke-width="0.7"/>
<rect x="470.07" y="221.75" width="5.04" height="7.45" fill="#000"/>
<path d="M467.80 227.90V228.70M466.60 227.90H469.00M466.60 228.70H469.00" stroke="#444" stroke-width="0.95" fill="none"/>
<path d="M472.59 218.25V221.75M471.39 218.25H473.79" stroke="#222" stroke-width="0.9" fill="none"/>
<rect x="482.77" y="227.50" width="3.84" height="1.70" fill="#fff" stroke="#8a8a8a" stroke-width="0.7"/>
<rect x="486.96" y="218.00" width="5.04" height="11.20" fill="#000"/>
<path d="M484.69 225.50V229.50M483.49 225.50H485.89M483.49 229.50H485.89" stroke="#444" stroke-width="0.95" fill="none"/>
<path d="M489.48 216.25V218.00M488.28 216.25H490.68" stroke="#222" stroke-width="0.9" fill="none"/>
<rect x="499.66" y="228.50" width="3.84" height="0.70" fill="#fff" stroke="#8a8a8a" stroke-width="0.7"/>
<rect x="503.85" y="216.25" width="5.04" height="12.95" fill="#000"/>
<path d="M501.58 228.10V228.90M500.38 228.10H502.78M500.38 228.90H502.78" stroke="#444" stroke-width="0.95" fill="none"/>
<path d="M506.37 215.50V216.25M505.17 215.50H507.57" stroke="#222" stroke-width="0.9" fill="none"/>
<rect x="516.55" y="227.50" width="3.84" height="1.70" fill="#fff" stroke="#8a8a8a" stroke-width="0.7"/>
<rect x="520.74" y="218.75" width="5.04" height="10.45" fill="#000"/>
<path d="M518.47 227.10V227.90M517.27 227.10H519.67M517.27 227.90H519.67" stroke="#444" stroke-width="0.95" fill="none"/>
<path d="M523.26 217.50V218.75M522.06 217.50H524.46" stroke="#222" stroke-width="0.9" fill="none"/>
<rect x="533.44" y="227.50" width="3.84" height="1.70" fill="#fff" stroke="#8a8a8a" stroke-width="0.7"/>
<rect x="537.63" y="223.00" width="5.04" height="6.20" fill="#000"/>
<path d="M535.36 227.10V227.90M534.16 227.10H536.56M534.16 227.90H536.56" stroke="#444" stroke-width="0.95" fill="none"/>
<path d="M540.15 218.75V223.00M538.95 218.75H541.35" stroke="#222" stroke-width="0.9" fill="none"/>
<rect x="550.33" y="228.50" width="3.84" height="0.70" fill="#fff" stroke="#8a8a8a" stroke-width="0.7"/>
<rect x="554.52" y="224.50" width="5.04" height="4.70" fill="#000"/>
<path d="M552.25 228.10V228.90M551.05 228.10H553.45M551.05 228.90H553.45" stroke="#444" stroke-width="0.95" fill="none"/>
<path d="M557.04 222.00V224.50M555.84 222.00H558.24" stroke="#222" stroke-width="0.9" fill="none"/>
<rect x="567.22" y="228.30" width="3.84" height="0.90" fill="#fff" stroke="#8a8a8a" stroke-width="0.7"/>
<rect x="571.41" y="222.00" width="5.04" height="7.20" fill="#000"/>
<path d="M569.14 227.90V228.70M567.94 227.90H570.34M567.94 228.70H570.34" stroke="#444" stroke-width="0.95" fill="none"/>
<path d="M573.94 220.10V222.00M572.74 220.10H575.14" stroke="#222" stroke-width="0.9" fill="none"/>
<rect x="584.11" y="228.50" width="3.84" height="0.70" fill="#fff" stroke="#8a8a8a" stroke-width="0.7"/>
<rect x="588.30" y="224.60" width="5.04" height="4.60" fill="#000"/>
<path d="M586.03 228.10V228.90M584.83 228.10H587.23M584.83 228.90H587.23" stroke="#444" stroke-width="0.95" fill="none"/>
<path d="M590.83 223.10V224.60M589.63 223.10H592.03" stroke="#222" stroke-width="0.9" fill="none"/>
<path d="M326.50 145.00V229.20H596.75" stroke="#b8b8b8" stroke-width="0.8" fill="none"/>
<path d="M324.50 229.10H326.50" stroke="#b8b8b8" stroke-width="0.8"/>
<text transform="translate(320.60,231.70) scale(1.0,1.0)" font-family="Liberation Serif" font-weight="bold" font-size="7.4" text-anchor="end" stroke="#000" stroke-width="0.12">0</text>
<path d="M324.50 219.76H326.50" stroke="#b8b8b8" stroke-width="0.8"/>
<text transform="translate(320.60,222.36) scale(1.0,1.0)" font-family="Liberation Serif" font-weight="bold" font-size="7.4" text-anchor="end" stroke="#000" stroke-width="0.12">0.05</text>
<path d="M324.50 210.41H326.50" stroke="#b8b8b8" stroke-width="0.8"/>
<text transform="translate(320.60,213.01) scale(1.0,1.0)" font-family="Liberation Serif" font-weight="bold" font-size="7.4" text-anchor="end" stroke="#000" stroke-width="0.12">0.1</text>
<path d="M324.50 201.07H326.50" stroke="#b8b8b8" stroke-width="0.8"/>
<text transform="translate(320.60,203.67) scale(1.0,1.0)" font-family="Liberation Serif" font-weight="bold" font-size="7.4" text-anchor="end" stroke="#000" stroke-width="0.12">0.15</text>
<path d="M324.50 191.72H326.50" stroke="#b8b8b8" stroke-width="0.8"/>
<text transform="translate(320.60,194.32) scale(1.0,1.0)" font-family="Liberation Serif" font-weight="bold" font-size="7.4" text-anchor="end" stroke="#000" stroke-width="0.12">0.2</text>
<path d="M324.50 182.38H326.50" stroke="#b8b8b8" stroke-width="0.8"/>
<text transform="translate(320.60,184.98) scale(1.0,1.0)" font-family="Liberation Serif" font-weight="bold" font-size="7.4" text-anchor="end" stroke="#000" stroke-width="0.12">0.25</text>
<path d="M324.50 173.03H326.50" stroke="#b8b8b8" stroke-width="0.8"/>
<text transform="translate(320.60,175.63) scale(1.0,1.0)" font-family="Liberation Serif" font-weight="bold" font-size="7.4" text-anchor="end" stroke="#000" stroke-width="0.12">0.3</text>
<path d="M324.50 163.69H326.50" stroke="#b8b8b8" stroke-width="0.8"/>
<text transform="translate(320.60,166.29) scale(1.0,1.0)" font-family="Liberation Serif" font-weight="bold" font-size="7.4" text-anchor="end" stroke="#000" stroke-width="0.12">0.35</text>
<path d="M324.50 154.34H326.50" stroke="#b8b8b8" stroke-width="0.8"/>
<text transform="translate(320.60,156.94) scale(1.0,1.0)" font-family="Liberation Serif" font-weight="bold" font-size="7.4" text-anchor="end" stroke="#000" stroke-width="0.12">0.4</text>
<path d="M324.50 145.00H326.50" stroke="#b8b8b8" stroke-width="0.8"/>
<text transform="translate(320.60,147.60) scale(1.0,1.0)" font-family="Liberation Serif" font-weight="bold" font-size="7.4" text-anchor="end" stroke="#000" stroke-width="0.12">0.45</text>
<path d="M326.50 229.20V231.20" stroke="#b8b8b8" stroke-width="0.8"/>
<path d="M343.39 229.20V231.20" stroke="#b8b8b8" stroke-width="0.8"/>
<path d="M360.28 229.20V231.20" stroke="#b8b8b8" stroke-width="0.8"/>
<path d="M377.17 229.20V231.20" stroke="#b8b8b8" stroke-width="0.8"/>
<path d="M394.06 229.20V231.20" stroke="#b8b8b8" stroke-width="0.8"/>
<path d="M410.95 229.20V231.20" stroke="#b8b8b8" stroke-width="0.8"/>
<path d="M427.84 229.20V231.20" stroke="#b8b8b8" stroke-width="0.8"/>
<path d="M444.73 229.20V231.20" stroke="#b8b8b8" stroke-width="0.8"/>
<path d="M461.62 229.20V231.20" stroke="#b8b8b8" stroke-width="0.8"/>
<path d="M478.52 229.20V231.20" stroke="#b8b8b8" stroke-width="0.8"/>
<path d="M495.41 229.20V231.20" stroke="#b8b8b8" stroke-width="0.8"/>
<path d="M512.30 229.20V231.20" stroke="#b8b8b8" stroke-width="0.8"/>
<path d="M529.19 229.20V231.20" stroke="#b8b8b8" stroke-width="0.8"/>
<path d="M546.08 229.20V231.20" stroke="#b8b8b8" stroke-width="0.8"/>
<path d="M562.97 229.20V231.20" stroke="#b8b8b8" stroke-width="0.8"/>
<path d="M579.86 229.20V231.20" stroke="#b8b8b8" stroke-width="0.8"/>
<path d="M596.75 229.20V231.20" stroke="#b8b8b8" stroke-width="0.8"/>
<text transform="translate(336.55,239.20) rotate(-45)" font-family="Liberation Serif" font-size="7.0" text-anchor="end" stroke="#000" stroke-width="0.2">B<tspan dx="0.14">I</tspan><tspan dx="0.07">I</tspan><tspan dx="0.07">I</tspan><tspan dx="0.21">Y</tspan>-122</text>
<text transform="translate(353.44,239.20) rotate(-45)" font-family="Liberation Serif" font-size="7.0" text-anchor="end" stroke="#000" stroke-width="0.2">B<tspan dx="0.14">I</tspan><tspan dx="0.07">I</tspan><tspan dx="0.07">I</tspan><tspan dx="0.21">Y</tspan>-998</text>
<text transform="translate(370.33,239.20) rotate(-45)" font-family="Liberation Serif" font-size="7.0" text-anchor="end" stroke="#000" stroke-width="0.2">B<tspan dx="0.14">I</tspan><tspan dx="0.07">I</tspan><tspan dx="0.07">I</tspan><tspan dx="0.21">Y</tspan>-368</text>
<text transform="translate(387.22,239.20) rotate(-45)" font-family="Liberation Serif" font-size="7.0" text-anchor="end" stroke="#000" stroke-width="0.2">B<tspan dx="0.14">I</tspan><tspan dx="0.07">I</tspan><tspan dx="0.07">I</tspan><tspan dx="0.21">Y</tspan>-3618</text>
<text transform="translate(404.11,239.20) rotate(-45)" font-family="Liberation Serif" font-size="7.0" text-anchor="end" stroke="#000" stroke-width="0.2">I<tspan dx="-0.07">I</tspan><tspan dx="1.47">Y</tspan>-122</text>
<text transform="translate(421.00,239.20) rotate(-45)" font-family="Liberation Serif" font-size="7.0" text-anchor="end" stroke="#000" stroke-width="0.2">I<tspan dx="-0.07">I</tspan><tspan dx="1.47">Y</tspan>-998</text>
<text transform="translate(437.89,239.20) rotate(-45)" font-family="Liberation Serif" font-size="7.0" text-anchor="end" stroke="#000" stroke-width="0.2">I<tspan dx="-0.07">I</tspan><tspan dx="1.47">Y</tspan>-368</text>
<text transform="translate(458.17,235.81) rotate(-45)" font-family="Liberation Serif" font-size="7.0" text-anchor="end" stroke="#000" stroke-width="0.2">I<tspan dx="-0.07">I</tspan><tspan dx="1.47">Y</tspan>-...</text>
<text transform="translate(471.67,239.20) rotate(-45)" font-family="Liberation Serif" font-size="7.0" text-anchor="end" stroke="#000" stroke-width="0.2">QY-122</text>
<text transform="translate(488.56,239.20) rotate(-45)" font-family="Liberation Serif" font-size="7.0" text-anchor="end" stroke="#000" stroke-width="0.2">QY-998</text>
<text transform="translate(505.45,239.20) rotate(-45)" font-family="Liberation Serif" font-size="7.0" text-anchor="end" stroke="#000" stroke-width="0.2">QY-368</text>
<text transform="translate(522.34,239.20) rotate(-45)" font-family="Liberation Serif" font-size="7.0" text-anchor="end" stroke="#000" stroke-width="0.2">QY-3618</text>
<text transform="translate(539.23,239.20) rotate(-45)" font-family="Liberation Serif" font-size="7.0" text-anchor="end" stroke="#000" stroke-width="0.2">TY-122</text>
<text transform="translate(556.12,239.20) rotate(-45)" font-family="Liberation Serif" font-size="7.0" text-anchor="end" stroke="#000" stroke-width="0.2">TY-998</text>
<text transform="translate(573.01,239.20) rotate(-45)" font-family="Liberation Serif" font-size="7.0" text-anchor="end" stroke="#000" stroke-width="0.2">TY-368</text>
<text transform="translate(589.90,239.20) rotate(-45)" font-family="Liberation Serif" font-size="7.0" text-anchor="end" stroke="#000" stroke-width="0.2">TY-3618</text>
<text x="416.2" y="138.3" font-family="Liberation Serif" font-weight="bold" font-size="9.45" stroke="#000" stroke-width="0.2">Gluconic acid</text>
<text x="332.8" y="149" font-family="Liberation Sans" font-size="10.4" stroke="#000" stroke-width="0.1">D</text>
<rect x="566.15" y="145.45" width="4.60" height="4.30" fill="#fff" stroke="#6a6a6a" stroke-width="0.85"/>
<text transform="translate(573.3,151.6) scale(1.04,1)" font-family="Liberation Serif" font-size="9.1" stroke="#000" stroke-width="0.18">0M</text>
<rect x="565.90" y="157.10" width="5.10" height="4.10" fill="#000"/>
<text transform="translate(573.3,162.5) scale(1.04,1)" font-family="Liberation Serif" font-size="9.1" stroke="#000" stroke-width="0.18">24M</text>
<rect x="25.72" y="297.00" width="4.59" height="68.40" fill="#fff" stroke="#8a8a8a" stroke-width="0.7"/>
<rect x="30.67" y="313.75" width="4.99" height="51.65" fill="#000"/>
<path d="M28.02 289.50V304.50M26.82 289.50H29.22M26.82 304.50H29.22" stroke="#444" stroke-width="0.95" fill="none"/>
<rect x="42.45" y="292.00" width="4.59" height="73.40" fill="#fff" stroke="#8a8a8a" stroke-width="0.7"/>
<rect x="47.40" y="307.00" width="4.99" height="58.40" fill="#000"/>
<path d="M44.75 290.00V294.00M43.55 290.00H45.95M43.55 294.00H45.95" stroke="#444" stroke-width="0.95" fill="none"/>
<path d="M49.89 301.25V307.00M48.69 301.25H51.09" stroke="#222" stroke-width="0.9" fill="none"/>
<rect x="59.18" y="292.50" width="4.59" height="72.90" fill="#fff" stroke="#8a8a8a" stroke-width="0.7"/>
<rect x="64.13" y="313.25" width="4.99" height="52.15" fill="#000"/>
<path d="M61.48 285.50V299.50M60.28 285.50H62.68M60.28 299.50H62.68" stroke="#444" stroke-width="0.95" fill="none"/>
<path d="M66.63 311.00V313.25M65.43 311.00H67.83" stroke="#222" stroke-width="0.9" fill="none"/>
<rect x="75.91" y="300.00" width="4.59" height="65.40" fill="#fff" stroke="#8a8a8a" stroke-width="0.7"/>
<rect x="80.86" y="319.50" width="4.99" height="45.90" fill="#000"/>
<path d="M78.21 298.50V301.50M77.01 298.50H79.41M77.01 301.50H79.41" stroke="#444" stroke-width="0.95" fill="none"/>
<rect x="92.65" y="302.00" width="4.59" height="63.40" fill="#fff" stroke="#8a8a8a" stroke-width="0.7"/>
<rect x="97.59" y="315.50" width="4.99" height="49.90" fill="#000"/>
<path d="M94.94 300.00V304.00M93.74 300.00H96.14M93.74 304.00H96.14" stroke="#444" stroke-width="0.95" fill="none"/>
<path d="M100.09 309.50V315.50M98.89 309.50H101.29" stroke="#222" stroke-width="0.9" fill="none"/>
<rect x="109.38" y="303.00" width="4.59" height="62.40" fill="#fff" stroke="#8a8a8a" stroke-width="0.7"/>
<rect x="114.32" y="319.25" width="4.99" height="46.15" fill="#000"/>
<path d="M111.67 301.00V305.00M110.47 301.00H112.87M110.47 305.00H112.87" stroke="#444" stroke-width="0.95" fill="none"/>
<path d="M116.82 316.00V319.25M115.62 316.00H118.02" stroke="#222" stroke-width="0.9" fill="none"/>
<rect x="126.11" y="305.00" width="4.59" height="60.40" fill="#fff" stroke="#8a8a8a" stroke-width="0.7"/>
<rect x="131.05" y="316.25" width="4.99" height="49.15" fill="#000"/>
<path d="M128.41 301.50V308.50M127.21 301.50H129.61M127.21 308.50H129.61" stroke="#444" stroke-width="0.95" fill="none"/>
<path d="M133.55 314.00V316.25M132.35 314.00H134.75" stroke="#222" stroke-width="0.9" fill="none"/>
<rect x="142.84" y="307.50" width="4.59" height="57.90" fill="#fff" stroke="#8a8a8a" stroke-width="0.7"/>
<rect x="147.78" y="320.75" width="4.99" height="44.65" fill="#000"/>
<path d="M145.14 303.00V312.00M143.94 303.00H146.34M143.94 312.00H146.34" stroke="#444" stroke-width="0.95" fill="none"/>
<rect x="159.57" y="308.75" width="4.59" height="56.65" fill="#fff" stroke="#8a8a8a" stroke-width="0.7"/>
<rect x="164.52" y="316.25" width="4.99" height="49.15" fill="#000"/>
<path d="M161.87 305.50V312.00M160.67 305.50H163.07M160.67 312.00H163.07" stroke="#444" stroke-width="0.95" fill="none"/>
<path d="M167.01 314.00V316.25M165.81 314.00H168.21" stroke="#222" stroke-width="0.9" fill="none"/>
<rect x="176.30" y="311.25" width="4.59" height="54.15" fill="#fff" stroke="#8a8a8a" stroke-width="0.7"/>
<rect x="181.25" y="327.00" width="4.99" height="38.40" fill="#000"/>
<path d="M178.60 308.75V313.75M177.40 308.75H179.80M177.40 313.75H179.80" stroke="#444" stroke-width="0.95" fill="none"/>
<path d="M183.74 324.50V327.00M182.54 324.50H184.94" stroke="#222" stroke-width="0.9" fill="none"/>
<rect x="193.03" y="312.00" width="4.59" height="53.40" fill="#fff" stroke="#8a8a8a" stroke-width="0.7"/>
<rect x="197.98" y="327.00" width="4.99" height="38.40" fill="#000"/>
<path d="M195.33 308.75V315.25M194.13 308.75H196.53M194.13 315.25H196.53" stroke="#444" stroke-width="0.95" fill="none"/>
<path d="M200.48 322.00V327.00M199.28 322.00H201.68" stroke="#222" stroke-width="0.9" fill="none"/>
<rect x="209.76" y="317.50" width="4.59" height="47.90" fill="#fff" stroke="#8a8a8a" stroke-width="0.7"/>
<rect x="214.71" y="323.75" width="4.99" height="41.65" fill="#000"/>
<path d="M212.06 308.00V327.00M210.86 308.00H213.26M210.86 327.00H213.26" stroke="#444" stroke-width="0.95" fill="none"/>
<path d="M217.21 318.75V323.75M216.01 318.75H218.41" stroke="#222" stroke-width="0.9" fill="none"/>
<rect x="226.50" y="317.00" width="4.59" height="48.40" fill="#fff" stroke="#8a8a8a" stroke-width="0.7"/>
<rect x="231.44" y="336.25" width="4.99" height="29.15" fill="#000"/>
<path d="M228.79 314.50V319.50M227.59 314.50H229.99M227.59 319.50H229.99" stroke="#444" stroke-width="0.95" fill="none"/>
<path d="M233.94 333.25V336.25M232.74 333.25H235.14" stroke="#222" stroke-width="0.9" fill="none"/>
<rect x="243.23" y="317.50" width="4.59" height="47.90" fill="#fff" stroke="#8a8a8a" stroke-width="0.7"/>
<rect x="248.17" y="323.25" width="4.99" height="42.15" fill="#000"/>
<path d="M245.52 315.50V319.50M244.32 315.50H246.72M244.32 319.50H246.72" stroke="#444" stroke-width="0.95" fill="none"/>
<path d="M250.67 314.50V323.25M249.47 314.50H251.87" stroke="#222" stroke-width="0.9" fill="none"/>
<rect x="259.96" y="319.50" width="4.59" height="45.90" fill="#fff" stroke="#8a8a8a" stroke-width="0.7"/>
<rect x="264.90" y="325.50" width="4.99" height="39.90" fill="#000"/>
<path d="M262.26 315.50V323.50M261.06 315.50H263.46M261.06 323.50H263.46" stroke="#444" stroke-width="0.95" fill="none"/>
<rect x="276.69" y="318.00" width="4.59" height="47.40" fill="#fff" stroke="#8a8a8a" stroke-width="0.7"/>
<rect x="281.63" y="330.00" width="4.99" height="35.40" fill="#000"/>
<path d="M278.99 307.00V329.00M277.79 307.00H280.19M277.79 329.00H280.19" stroke="#444" stroke-width="0.95" fill="none"/>
<path d="M284.13 325.50V330.00M282.93 325.50H285.33" stroke="#222" stroke-width="0.9" fill="none"/>
<path d="M22.30 273.80V365.40H290.00" stroke="#b8b8b8" stroke-width="0.8" fill="none"/>
<path d="M20.30 365.40H22.30" stroke="#b8b8b8" stroke-width="0.8"/>
<text transform="translate(16.60,368.00) scale(1.02,1.0)" font-family="Liberation Serif" font-weight="bold" font-size="7.0" text-anchor="end" stroke="#000" stroke-width="0.12">0</text>
<path d="M20.30 352.31H22.30" stroke="#b8b8b8" stroke-width="0.8"/>
<text transform="translate(16.60,354.91) scale(1.02,1.0)" font-family="Liberation Serif" font-weight="bold" font-size="7.0" text-anchor="end" stroke="#000" stroke-width="0.12">0.05</text>
<path d="M20.30 339.23H22.30" stroke="#b8b8b8" stroke-width="0.8"/>
<text transform="translate(16.60,341.83) scale(1.02,1.0)" font-family="Liberation Serif" font-weight="bold" font-size="7.0" text-anchor="end" stroke="#000" stroke-width="0.12">0.1</text>
<path d="M20.30 326.14H22.30" stroke="#b8b8b8" stroke-width="0.8"/>
<text transform="translate(16.60,328.74) scale(1.02,1.0)" font-family="Liberation Serif" font-weight="bold" font-size="7.0" text-anchor="end" stroke="#000" stroke-width="0.12">0.15</text>
<path d="M20.30 313.06H22.30" stroke="#b8b8b8" stroke-width="0.8"/>
<text transform="translate(16.60,315.66) scale(1.02,1.0)" font-family="Liberation Serif" font-weight="bold" font-size="7.0" text-anchor="end" stroke="#000" stroke-width="0.12">0.2</text>
<path d="M20.30 299.97H22.30" stroke="#b8b8b8" stroke-width="0.8"/>
<text transform="translate(16.60,302.57) scale(1.02,1.0)" font-family="Liberation Serif" font-weight="bold" font-size="7.0" text-anchor="end" stroke="#000" stroke-width="0.12">0.25</text>
<path d="M20.30 286.89H22.30" stroke="#b8b8b8" stroke-width="0.8"/>
<text transform="translate(16.60,289.49) scale(1.02,1.0)" font-family="Liberation Serif" font-weight="bold" font-size="7.0" text-anchor="end" stroke="#000" stroke-width="0.12">0.3</text>
<path d="M20.30 273.80H22.30" stroke="#b8b8b8" stroke-width="0.8"/>
<text transform="translate(16.60,276.40) scale(1.02,1.0)" font-family="Liberation Serif" font-weight="bold" font-size="7.0" text-anchor="end" stroke="#000" stroke-width="0.12">0.35</text>
<path d="M22.30 365.40V367.40" stroke="#b8b8b8" stroke-width="0.8"/>
<path d="M39.03 365.40V367.40" stroke="#b8b8b8" stroke-width="0.8"/>
<path d="M55.76 365.40V367.40" stroke="#b8b8b8" stroke-width="0.8"/>
<path d="M72.49 365.40V367.40" stroke="#b8b8b8" stroke-width="0.8"/>
<path d="M89.22 365.40V367.40" stroke="#b8b8b8" stroke-width="0.8"/>
<path d="M105.96 365.40V367.40" stroke="#b8b8b8" stroke-width="0.8"/>
<path d="M122.69 365.40V367.40" stroke="#b8b8b8" stroke-width="0.8"/>
<path d="M139.42 365.40V367.40" stroke="#b8b8b8" stroke-width="0.8"/>
<path d="M156.15 365.40V367.40" stroke="#b8b8b8" stroke-width="0.8"/>
<path d="M172.88 365.40V367.40" stroke="#b8b8b8" stroke-width="0.8"/>
<path d="M189.61 365.40V367.40" stroke="#b8b8b8" stroke-width="0.8"/>
<path d="M206.34 365.40V367.40" stroke="#b8b8b8" stroke-width="0.8"/>
<path d="M223.07 365.40V367.40" stroke="#b8b8b8" stroke-width="0.8"/>
<path d="M239.81 365.40V367.40" stroke="#b8b8b8" stroke-width="0.8"/>
<path d="M256.54 365.40V367.40" stroke="#b8b8b8" stroke-width="0.8"/>
<path d="M273.27 365.40V367.40" stroke="#b8b8b8" stroke-width="0.8"/>
<path d="M290.00 365.40V367.40" stroke="#b8b8b8" stroke-width="0.8"/>
<text transform="translate(32.27,375.60) rotate(-45)" font-family="Liberation Serif" font-size="6.7" text-anchor="end" stroke="#000" stroke-width="0.2">B<tspan dx="0.13">I</tspan><tspan dx="0.07">I</tspan><tspan dx="0.07">I</tspan><tspan dx="0.20">Y</tspan>-122</text>
<text transform="translate(49.00,375.60) rotate(-45)" font-family="Liberation Serif" font-size="6.7" text-anchor="end" stroke="#000" stroke-width="0.2">B<tspan dx="0.13">I</tspan><tspan dx="0.07">I</tspan><tspan dx="0.07">I</tspan><tspan dx="0.20">Y</tspan>-998</text>
<text transform="translate(65.73,375.60) rotate(-45)" font-family="Liberation Serif" font-size="6.7" text-anchor="end" stroke="#000" stroke-width="0.2">B<tspan dx="0.13">I</tspan><tspan dx="0.07">I</tspan><tspan dx="0.07">I</tspan><tspan dx="0.20">Y</tspan>-368</text>
<text transform="translate(82.46,375.60) rotate(-45)" font-family="Liberation Serif" font-size="6.7" text-anchor="end" stroke="#000" stroke-width="0.2">B<tspan dx="0.13">I</tspan><tspan dx="0.07">I</tspan><tspan dx="0.07">I</tspan><tspan dx="0.20">Y</tspan>-3618</text>
<text transform="translate(99.19,375.60) rotate(-45)" font-family="Liberation Serif" font-size="6.7" text-anchor="end" stroke="#000" stroke-width="0.2">I<tspan dx="-0.07">I</tspan><tspan dx="1.41">Y</tspan>-122</text>
<text transform="translate(115.92,375.60) rotate(-45)" font-family="Liberation Serif" font-size="6.7" text-anchor="end" stroke="#000" stroke-width="0.2">I<tspan dx="-0.07">I</tspan><tspan dx="1.41">Y</tspan>-998</text>
<text transform="translate(132.65,375.60) rotate(-45)" font-family="Liberation Serif" font-size="6.7" text-anchor="end" stroke="#000" stroke-width="0.2">I<tspan dx="-0.07">I</tspan><tspan dx="1.41">Y</tspan>-368</text>
<text transform="translate(149.38,375.60) rotate(-45)" font-family="Liberation Serif" font-size="6.7" text-anchor="end" stroke="#000" stroke-width="0.2">I<tspan dx="-0.07">I</tspan><tspan dx="1.41">Y</tspan>-3618</text>
<text transform="translate(166.12,375.60) rotate(-45)" font-family="Liberation Serif" font-size="6.7" text-anchor="end" stroke="#000" stroke-width="0.2">QY-122</text>
<text transform="translate(182.85,375.60) rotate(-45)" font-family="Liberation Serif" font-size="6.7" text-anchor="end" stroke="#000" stroke-width="0.2">QY-998</text>
<text transform="translate(199.58,375.60) rotate(-45)" font-family="Liberation Serif" font-size="6.7" text-anchor="end" stroke="#000" stroke-width="0.2">QY-368</text>
<text transform="translate(216.31,375.60) rotate(-45)" font-family="Liberation Serif" font-size="6.7" text-anchor="end" stroke="#000" stroke-width="0.2">QY-3618</text>
<text transform="translate(233.04,375.60) rotate(-45)" font-family="Liberation Serif" font-size="6.7" text-anchor="end" stroke="#000" stroke-width="0.2">TY-122</text>
<text transform="translate(249.77,375.60) rotate(-45)" font-family="Liberation Serif" font-size="6.7" text-anchor="end" stroke="#000" stroke-width="0.2">TY-998</text>
<text transform="translate(266.50,375.60) rotate(-45)" font-family="Liberation Serif" font-size="6.7" text-anchor="end" stroke="#000" stroke-width="0.2">TY-368</text>
<text transform="translate(283.23,375.60) rotate(-45)" font-family="Liberation Serif" font-size="6.7" text-anchor="end" stroke="#000" stroke-width="0.2">TY-3618</text>
<text x="121.7" y="268.7" font-family="Liberation Serif" font-weight="bold" font-size="9.2" stroke="#000" stroke-width="0.2">Oxalacetic acid</text>
<text x="29.0" y="277.8" font-family="Liberation Sans" font-size="10.4" stroke="#000" stroke-width="0.1">E</text>
<rect x="263.45" y="272.75" width="4.40" height="4.60" fill="#fff" stroke="#6a6a6a" stroke-width="0.85"/>
<text transform="translate(270.9,278.9) scale(1.04,1)" font-family="Liberation Serif" font-size="8.9" stroke="#000" stroke-width="0.18">0M</text>
<rect x="263.20" y="284.70" width="4.90" height="3.90" fill="#000"/>
<text transform="translate(270.9,290.1) scale(1.04,1)" font-family="Liberation Serif" font-size="8.9" stroke="#000" stroke-width="0.18">24M</text>
<rect x="330.39" y="331.25" width="4.69" height="34.25" fill="#fff" stroke="#8a8a8a" stroke-width="0.7"/>
<rect x="335.43" y="346.25" width="5.09" height="19.25" fill="#000"/>
<path d="M332.73 327.00V335.50M331.53 327.00H333.93M331.53 335.50H333.93" stroke="#444" stroke-width="0.95" fill="none"/>
<path d="M337.98 343.25V346.25M336.78 343.25H339.18" stroke="#222" stroke-width="0.9" fill="none"/>
<rect x="347.45" y="327.00" width="4.69" height="38.50" fill="#fff" stroke="#8a8a8a" stroke-width="0.7"/>
<rect x="352.49" y="337.50" width="5.09" height="28.00" fill="#000"/>
<path d="M349.80 323.75V330.25M348.60 323.75H351.00M348.60 330.25H351.00" stroke="#444" stroke-width="0.95" fill="none"/>
<path d="M355.04 332.00V337.50M353.84 332.00H356.24" stroke="#222" stroke-width="0.9" fill="none"/>
<rect x="364.51" y="326.25" width="4.69" height="39.25" fill="#fff" stroke="#8a8a8a" stroke-width="0.7"/>
<rect x="369.56" y="335.00" width="5.09" height="30.50" fill="#000"/>
<path d="M366.86 322.50V330.00M365.66 322.50H368.06M365.66 330.00H368.06" stroke="#444" stroke-width="0.95" fill="none"/>
<path d="M372.10 332.50V335.00M370.90 332.50H373.30" stroke="#222" stroke-width="0.9" fill="none"/>
<rect x="381.58" y="311.25" width="4.69" height="54.25" fill="#fff" stroke="#8a8a8a" stroke-width="0.7"/>
<rect x="386.62" y="339.50" width="5.09" height="26.00" fill="#000"/>
<path d="M383.92 293.75V328.75M382.72 293.75H385.12M382.72 328.75H385.12" stroke="#444" stroke-width="0.95" fill="none"/>
<path d="M389.17 332.50V339.50M387.97 332.50H390.37" stroke="#222" stroke-width="0.9" fill="none"/>
<rect x="398.64" y="352.00" width="4.69" height="13.50" fill="#fff" stroke="#8a8a8a" stroke-width="0.7"/>
<rect x="403.68" y="353.75" width="5.09" height="11.75" fill="#000"/>
<path d="M400.98 350.50V353.50M399.78 350.50H402.18M399.78 353.50H402.18" stroke="#444" stroke-width="0.95" fill="none"/>
<path d="M406.23 342.00V353.75M405.03 342.00H407.43" stroke="#222" stroke-width="0.9" fill="none"/>
<rect x="415.70" y="338.75" width="4.69" height="26.75" fill="#fff" stroke="#8a8a8a" stroke-width="0.7"/>
<rect x="420.74" y="358.75" width="5.09" height="6.75" fill="#000"/>
<path d="M418.05 337.00V340.50M416.85 337.00H419.25M416.85 340.50H419.25" stroke="#444" stroke-width="0.95" fill="none"/>
<rect x="432.76" y="345.00" width="4.69" height="20.50" fill="#fff" stroke="#8a8a8a" stroke-width="0.7"/>
<rect x="437.81" y="357.50" width="5.09" height="8.00" fill="#000"/>
<path d="M435.11 342.50V347.50M433.91 342.50H436.31M433.91 347.50H436.31" stroke="#444" stroke-width="0.95" fill="none"/>
<path d="M440.35 355.50V357.50M439.15 355.50H441.55" stroke="#222" stroke-width="0.9" fill="none"/>
<rect x="449.83" y="332.50" width="4.69" height="33.00" fill="#fff" stroke="#8a8a8a" stroke-width="0.7"/>
<rect x="454.87" y="353.25" width="5.09" height="12.25" fill="#000"/>
<path d="M452.17 327.50V337.50M450.97 327.50H453.37M450.97 337.50H453.37" stroke="#444" stroke-width="0.95" fill="none"/>
<path d="M457.42 352.00V353.25M456.22 352.00H458.62" stroke="#222" stroke-width="0.9" fill="none"/>
<rect x="466.89" y="348.75" width="4.69" height="16.75" fill="#fff" stroke="#8a8a8a" stroke-width="0.7"/>
<rect x="471.93" y="354.25" width="5.09" height="11.25" fill="#000"/>
<path d="M469.23 347.00V350.50M468.03 347.00H470.43M468.03 350.50H470.43" stroke="#444" stroke-width="0.95" fill="none"/>
<rect x="483.95" y="340.75" width="4.69" height="24.75" fill="#fff" stroke="#8a8a8a" stroke-width="0.7"/>
<rect x="488.99" y="355.75" width="5.09" height="9.75" fill="#000"/>
<path d="M486.30 338.00V343.50M485.10 338.00H487.50M485.10 343.50H487.50" stroke="#444" stroke-width="0.95" fill="none"/>
<path d="M491.54 353.75V355.75M490.34 353.75H492.74" stroke="#222" stroke-width="0.9" fill="none"/>
<rect x="501.01" y="353.25" width="4.69" height="12.25" fill="#fff" stroke="#8a8a8a" stroke-width="0.7"/>
<rect x="506.06" y="357.50" width="5.09" height="8.00" fill="#000"/>
<path d="M503.36 351.50V355.00M502.16 351.50H504.56M502.16 355.00H504.56" stroke="#444" stroke-width="0.95" fill="none"/>
<rect x="518.08" y="355.00" width="4.69" height="10.50" fill="#fff" stroke="#8a8a8a" stroke-width="0.7"/>
<rect x="523.12" y="359.25" width="5.09" height="6.25" fill="#000"/>
<path d="M520.42 353.50V356.50M519.22 353.50H521.62M519.22 356.50H521.62" stroke="#444" stroke-width="0.95" fill="none"/>
<rect x="535.14" y="358.75" width="4.69" height="6.75" fill="#fff" stroke="#8a8a8a" stroke-width="0.7"/>
<rect x="540.18" y="362.00" width="5.09" height="3.50" fill="#000"/>
<path d="M537.48 358.35V359.15M536.28 358.35H538.68M536.28 359.15H538.68" stroke="#444" stroke-width="0.95" fill="none"/>
<rect x="552.20" y="356.75" width="4.69" height="8.75" fill="#fff" stroke="#8a8a8a" stroke-width="0.7"/>
<rect x="557.24" y="360.00" width="5.09" height="5.50" fill="#000"/>
<path d="M554.55 356.35V357.15M553.35 356.35H555.75M553.35 357.15H555.75" stroke="#444" stroke-width="0.95" fill="none"/>
<rect x="569.26" y="358.00" width="4.69" height="7.50" fill="#fff" stroke="#8a8a8a" stroke-width="0.7"/>
<rect x="574.31" y="361.75" width="5.09" height="3.75" fill="#000"/>
<path d="M571.61 357.60V358.40M570.41 357.60H572.81M570.41 358.40H572.81" stroke="#444" stroke-width="0.95" fill="none"/>
<rect x="586.33" y="359.25" width="4.69" height="6.25" fill="#fff" stroke="#8a8a8a" stroke-width="0.7"/>
<rect x="591.37" y="363.25" width="5.09" height="2.25" fill="#000"/>
<path d="M588.67 358.85V359.65M587.47 358.85H589.87M587.47 359.65H589.87" stroke="#444" stroke-width="0.95" fill="none"/>
<path d="M326.90 286.50V365.50H599.90" stroke="#b8b8b8" stroke-width="0.8" fill="none"/>
<path d="M324.90 365.50H326.90" stroke="#b8b8b8" stroke-width="0.8"/>
<text transform="translate(321.40,368.10) scale(1.0,1.0)" font-family="Liberation Serif" font-weight="bold" font-size="7.3" text-anchor="end" stroke="#000" stroke-width="0.12">0</text>
<path d="M324.90 355.62H326.90" stroke="#b8b8b8" stroke-width="0.8"/>
<text transform="translate(321.40,358.23) scale(1.0,1.0)" font-family="Liberation Serif" font-weight="bold" font-size="7.3" text-anchor="end" stroke="#000" stroke-width="0.12">0.1</text>
<path d="M324.90 345.75H326.90" stroke="#b8b8b8" stroke-width="0.8"/>
<text transform="translate(321.40,348.35) scale(1.0,1.0)" font-family="Liberation Serif" font-weight="bold" font-size="7.3" text-anchor="end" stroke="#000" stroke-width="0.12">0.2</text>
<path d="M324.90 335.88H326.90" stroke="#b8b8b8" stroke-width="0.8"/>
<text transform="translate(321.40,338.48) scale(1.0,1.0)" font-family="Liberation Serif" font-weight="bold" font-size="7.3" text-anchor="end" stroke="#000" stroke-width="0.12">0.3</text>
<path d="M324.90 326.00H326.90" stroke="#b8b8b8" stroke-width="0.8"/>
<text transform="translate(321.40,328.60) scale(1.0,1.0)" font-family="Liberation Serif" font-weight="bold" font-size="7.3" text-anchor="end" stroke="#000" stroke-width="0.12">0.4</text>
<path d="M324.90 316.12H326.90" stroke="#b8b8b8" stroke-width="0.8"/>
<text transform="translate(321.40,318.73) scale(1.0,1.0)" font-family="Liberation Serif" font-weight="bold" font-size="7.3" text-anchor="end" stroke="#000" stroke-width="0.12">0.5</text>
<path d="M324.90 306.25H326.90" stroke="#b8b8b8" stroke-width="0.8"/>
<text transform="translate(321.40,308.85) scale(1.0,1.0)" font-family="Liberation Serif" font-weight="bold" font-size="7.3" text-anchor="end" stroke="#000" stroke-width="0.12">0.6</text>
<path d="M324.90 296.38H326.90" stroke="#b8b8b8" stroke-width="0.8"/>
<text transform="translate(321.40,298.98) scale(1.0,1.0)" font-family="Liberation Serif" font-weight="bold" font-size="7.3" text-anchor="end" stroke="#000" stroke-width="0.12">0.7</text>
<path d="M324.90 286.50H326.90" stroke="#b8b8b8" stroke-width="0.8"/>
<text transform="translate(321.40,289.10) scale(1.0,1.0)" font-family="Liberation Serif" font-weight="bold" font-size="7.3" text-anchor="end" stroke="#000" stroke-width="0.12">0.8</text>
<path d="M326.90 365.50V367.50" stroke="#b8b8b8" stroke-width="0.8"/>
<path d="M343.96 365.50V367.50" stroke="#b8b8b8" stroke-width="0.8"/>
<path d="M361.02 365.50V367.50" stroke="#b8b8b8" stroke-width="0.8"/>
<path d="M378.09 365.50V367.50" stroke="#b8b8b8" stroke-width="0.8"/>
<path d="M395.15 365.50V367.50" stroke="#b8b8b8" stroke-width="0.8"/>
<path d="M412.21 365.50V367.50" stroke="#b8b8b8" stroke-width="0.8"/>
<path d="M429.27 365.50V367.50" stroke="#b8b8b8" stroke-width="0.8"/>
<path d="M446.34 365.50V367.50" stroke="#b8b8b8" stroke-width="0.8"/>
<path d="M463.40 365.50V367.50" stroke="#b8b8b8" stroke-width="0.8"/>
<path d="M480.46 365.50V367.50" stroke="#b8b8b8" stroke-width="0.8"/>
<path d="M497.52 365.50V367.50" stroke="#b8b8b8" stroke-width="0.8"/>
<path d="M514.59 365.50V367.50" stroke="#b8b8b8" stroke-width="0.8"/>
<path d="M531.65 365.50V367.50" stroke="#b8b8b8" stroke-width="0.8"/>
<path d="M548.71 365.50V367.50" stroke="#b8b8b8" stroke-width="0.8"/>
<path d="M565.77 365.50V367.50" stroke="#b8b8b8" stroke-width="0.8"/>
<path d="M582.84 365.50V367.50" stroke="#b8b8b8" stroke-width="0.8"/>
<path d="M599.90 365.50V367.50" stroke="#b8b8b8" stroke-width="0.8"/>
<text transform="translate(337.03,374.50) rotate(-45)" font-family="Liberation Serif" font-size="7.2" text-anchor="end" stroke="#000" stroke-width="0.2">B<tspan dx="0.14">I</tspan><tspan dx="0.07">I</tspan><tspan dx="0.07">I</tspan><tspan dx="0.22">Y</tspan>-122</text>
<text transform="translate(354.09,374.50) rotate(-45)" font-family="Liberation Serif" font-size="7.2" text-anchor="end" stroke="#000" stroke-width="0.2">B<tspan dx="0.14">I</tspan><tspan dx="0.07">I</tspan><tspan dx="0.07">I</tspan><tspan dx="0.22">Y</tspan>-998</text>
<text transform="translate(371.16,374.50) rotate(-45)" font-family="Liberation Serif" font-size="7.2" text-anchor="end" stroke="#000" stroke-width="0.2">B<tspan dx="0.14">I</tspan><tspan dx="0.07">I</tspan><tspan dx="0.07">I</tspan><tspan dx="0.22">Y</tspan>-368</text>
<text transform="translate(388.22,374.50) rotate(-45)" font-family="Liberation Serif" font-size="7.2" text-anchor="end" stroke="#000" stroke-width="0.2">B<tspan dx="0.14">I</tspan><tspan dx="0.07">I</tspan><tspan dx="0.07">I</tspan><tspan dx="0.22">Y</tspan>-3618</text>
<text transform="translate(405.28,374.50) rotate(-45)" font-family="Liberation Serif" font-size="7.2" text-anchor="end" stroke="#000" stroke-width="0.2">I<tspan dx="-0.07">I</tspan><tspan dx="1.51">Y</tspan>-122</text>
<text transform="translate(422.34,374.50) rotate(-45)" font-family="Liberation Serif" font-size="7.2" text-anchor="end" stroke="#000" stroke-width="0.2">I<tspan dx="-0.07">I</tspan><tspan dx="1.51">Y</tspan>-998</text>
<text transform="translate(439.41,374.50) rotate(-45)" font-family="Liberation Serif" font-size="7.2" text-anchor="end" stroke="#000" stroke-width="0.2">I<tspan dx="-0.07">I</tspan><tspan dx="1.51">Y</tspan>-368</text>
<text transform="translate(456.47,374.50) rotate(-45)" font-family="Liberation Serif" font-size="7.2" text-anchor="end" stroke="#000" stroke-width="0.2">I<tspan dx="-0.07">I</tspan><tspan dx="1.51">Y</tspan>-3618</text>
<text transform="translate(473.53,374.50) rotate(-45)" font-family="Liberation Serif" font-size="7.2" text-anchor="end" stroke="#000" stroke-width="0.2">QY-122</text>
<text transform="translate(490.59,374.50) rotate(-45)" font-family="Liberation Serif" font-size="7.2" text-anchor="end" stroke="#000" stroke-width="0.2">QY-998</text>
<text transform="translate(507.66,374.50) rotate(-45)" font-family="Liberation Serif" font-size="7.2" text-anchor="end" stroke="#000" stroke-width="0.2">QY-368</text>
<text transform="translate(524.72,374.50) rotate(-45)" font-family="Liberation Serif" font-size="7.2" text-anchor="end" stroke="#000" stroke-width="0.2">QY-3618</text>
<text transform="translate(541.78,374.50) rotate(-45)" font-family="Liberation Serif" font-size="7.2" text-anchor="end" stroke="#000" stroke-width="0.2">TY-122</text>
<text transform="translate(558.84,374.50) rotate(-45)" font-family="Liberation Serif" font-size="7.2" text-anchor="end" stroke="#000" stroke-width="0.2">TY-998</text>
<text transform="translate(575.91,374.50) rotate(-45)" font-family="Liberation Serif" font-size="7.2" text-anchor="end" stroke="#000" stroke-width="0.2">TY-368</text>
<text transform="translate(592.97,374.50) rotate(-45)" font-family="Liberation Serif" font-size="7.2" text-anchor="end" stroke="#000" stroke-width="0.2">TY-3618</text>
<text x="426.2" y="282.5" font-family="Liberation Serif" font-weight="bold" font-size="9.2" stroke="#000" stroke-width="0.2">Glucopyranoside</text>
<text x="333.0" y="290.5" font-family="Liberation Sans" font-size="10.4" stroke="#000" stroke-width="0.1">F</text>
<rect x="564.55" y="286.05" width="4.50" height="4.70" fill="#fff" stroke="#6a6a6a" stroke-width="0.85"/>
<text transform="translate(571.8,291.6) scale(1.04,1)" font-family="Liberation Serif" font-size="8.9" stroke="#000" stroke-width="0.18">0M</text>
<rect x="564.30" y="297.00" width="5.00" height="4.30" fill="#000"/>
<text transform="translate(571.8,302.5) scale(1.04,1)" font-family="Liberation Serif" font-size="8.9" stroke="#000" stroke-width="0.18">24M</text>
</svg>
</body></html>
